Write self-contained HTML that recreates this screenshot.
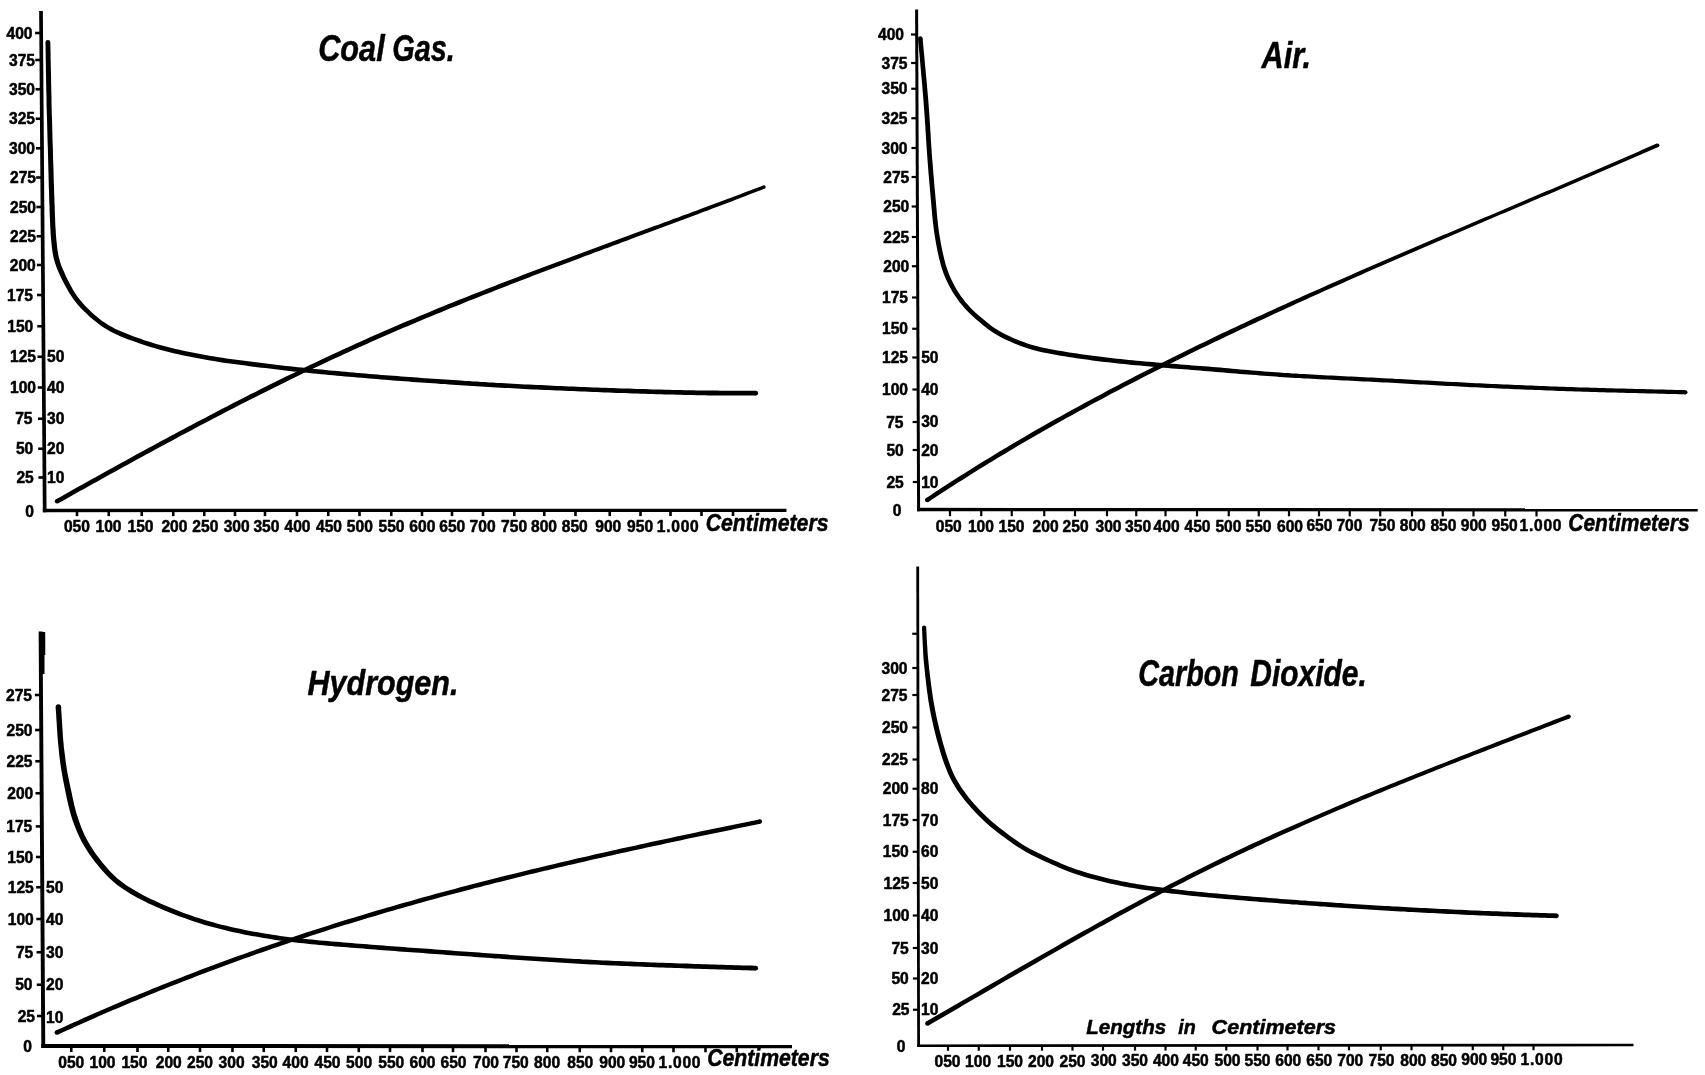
<!DOCTYPE html>
<html lang="en"><head><meta charset="utf-8"><title>Curves for Coal Gas, Air, Hydrogen and Carbon Dioxide</title>
<style>
html,body{margin:0;padding:0;background:#fff;}
body{width:1705px;height:1075px;overflow:hidden;}
svg{display:block;filter:grayscale(1);font-family:"Liberation Sans", sans-serif;font-weight:bold;fill:#000;stroke:#000;}
svg text{stroke:#000;stroke-width:0.5px;stroke-linejoin:round;}
</style></head><body>
<svg width="1705" height="1075" viewBox="0 0 1705 1075">
<line x1="41.00" y1="11.00" x2="44.70" y2="512.15" stroke-width="3.7"/>
<line x1="42.85" y1="510.50" x2="786.50" y2="510.40" stroke-width="3.3"/>
<line x1="35.11" y1="33.00" x2="41.16" y2="33.00" stroke-width="2.6"/>
<text x="32.5" y="38.7" font-size="15.6" text-anchor="end" letter-spacing="0.0">400</text>
<line x1="35.31" y1="60.00" x2="41.36" y2="60.00" stroke-width="2.6"/>
<text x="35.0" y="65.7" font-size="15.6" text-anchor="end" letter-spacing="0.0">375</text>
<line x1="35.53" y1="89.25" x2="41.58" y2="89.25" stroke-width="2.6"/>
<text x="35.0" y="94.95" font-size="15.6" text-anchor="end" letter-spacing="0.0">350</text>
<line x1="35.75" y1="118.75" x2="41.80" y2="118.75" stroke-width="2.6"/>
<text x="35.0" y="124.45" font-size="15.6" text-anchor="end" letter-spacing="0.0">325</text>
<line x1="35.97" y1="148.25" x2="42.02" y2="148.25" stroke-width="2.6"/>
<text x="35.0" y="153.95" font-size="15.6" text-anchor="end" letter-spacing="0.0">300</text>
<line x1="36.18" y1="177.50" x2="42.23" y2="177.50" stroke-width="2.6"/>
<text x="36.0" y="183.2" font-size="15.6" text-anchor="end" letter-spacing="0.0">275</text>
<line x1="36.40" y1="207.00" x2="42.45" y2="207.00" stroke-width="2.6"/>
<text x="36.0" y="212.7" font-size="15.6" text-anchor="end" letter-spacing="0.0">250</text>
<line x1="36.62" y1="236.25" x2="42.67" y2="236.25" stroke-width="2.6"/>
<text x="36.0" y="241.95" font-size="15.6" text-anchor="end" letter-spacing="0.0">225</text>
<line x1="36.83" y1="265.00" x2="42.88" y2="265.00" stroke-width="2.6"/>
<text x="35.75" y="270.7" font-size="15.6" text-anchor="end" letter-spacing="0.0">200</text>
<line x1="37.05" y1="295.00" x2="43.10" y2="295.00" stroke-width="2.6"/>
<text x="33.0" y="300.7" font-size="15.6" text-anchor="end" letter-spacing="0.0">175</text>
<line x1="37.29" y1="326.25" x2="43.34" y2="326.25" stroke-width="2.6"/>
<text x="33.25" y="331.95" font-size="15.6" text-anchor="end" letter-spacing="0.0">150</text>
<line x1="37.51" y1="356.75" x2="43.56" y2="356.75" stroke-width="2.6"/>
<text x="36.0" y="362.45" font-size="15.6" text-anchor="end" letter-spacing="0.0">125</text>
<line x1="37.74" y1="387.50" x2="43.79" y2="387.50" stroke-width="2.6"/>
<text x="36.0" y="393.2" font-size="15.6" text-anchor="end" letter-spacing="0.0">100</text>
<line x1="37.97" y1="418.75" x2="44.02" y2="418.75" stroke-width="2.6"/>
<text x="32.5" y="424.45" font-size="15.6" text-anchor="end" letter-spacing="0.0">75</text>
<line x1="38.19" y1="448.75" x2="44.24" y2="448.75" stroke-width="2.6"/>
<text x="33.25" y="454.45" font-size="15.6" text-anchor="end" letter-spacing="0.0">50</text>
<line x1="38.41" y1="477.50" x2="44.46" y2="477.50" stroke-width="2.6"/>
<text x="33.75" y="483.2" font-size="15.6" text-anchor="end" letter-spacing="0.0">25</text>
<text x="34.0" y="516.5" font-size="15.6" text-anchor="end" letter-spacing="0.0">0</text>
<text x="47.1" y="362.2" font-size="15.6" text-anchor="start" letter-spacing="0.0">50</text>
<text x="47.1" y="393.2" font-size="15.6" text-anchor="start" letter-spacing="0.0">40</text>
<text x="47.1" y="423.7" font-size="15.6" text-anchor="start" letter-spacing="0.0">30</text>
<text x="47.1" y="454.2" font-size="15.6" text-anchor="start" letter-spacing="0.0">20</text>
<text x="47.1" y="483.2" font-size="15.6" text-anchor="start" letter-spacing="0.0">10</text>
<line x1="77.00" y1="510.50" x2="77.00" y2="516.15" stroke-width="2.6"/>
<text x="76.9" y="532.0" font-size="15.6" text-anchor="middle" letter-spacing="0.0">050</text>
<line x1="108.75" y1="510.49" x2="108.75" y2="516.14" stroke-width="2.6"/>
<text x="108.5" y="532.0" font-size="15.6" text-anchor="middle" letter-spacing="0.0">100</text>
<line x1="141.75" y1="510.49" x2="141.75" y2="516.14" stroke-width="2.6"/>
<text x="140.5" y="532.0" font-size="15.6" text-anchor="middle" letter-spacing="0.0">150</text>
<line x1="173.25" y1="510.48" x2="173.25" y2="516.13" stroke-width="2.6"/>
<text x="174.4" y="532.0" font-size="15.6" text-anchor="middle" letter-spacing="0.0">200</text>
<line x1="204.25" y1="510.48" x2="204.25" y2="516.13" stroke-width="2.6"/>
<text x="205.3" y="532.0" font-size="15.6" text-anchor="middle" letter-spacing="0.0">250</text>
<line x1="235.00" y1="510.47" x2="235.00" y2="516.12" stroke-width="2.6"/>
<text x="236.7" y="532.0" font-size="15.6" text-anchor="middle" letter-spacing="0.0">300</text>
<line x1="265.00" y1="510.47" x2="265.00" y2="516.12" stroke-width="2.6"/>
<text x="266.4" y="532.0" font-size="15.6" text-anchor="middle" letter-spacing="0.0">350</text>
<line x1="297.00" y1="510.47" x2="297.00" y2="516.12" stroke-width="2.6"/>
<text x="297.5" y="532.0" font-size="15.6" text-anchor="middle" letter-spacing="0.0">400</text>
<line x1="328.25" y1="510.46" x2="328.25" y2="516.11" stroke-width="2.6"/>
<text x="329.0" y="532.0" font-size="15.6" text-anchor="middle" letter-spacing="0.0">450</text>
<line x1="359.50" y1="510.46" x2="359.50" y2="516.11" stroke-width="2.6"/>
<text x="359.8" y="532.0" font-size="15.6" text-anchor="middle" letter-spacing="0.0">500</text>
<line x1="391.25" y1="510.45" x2="391.25" y2="516.10" stroke-width="2.6"/>
<text x="391.5" y="532.0" font-size="15.6" text-anchor="middle" letter-spacing="0.0">550</text>
<line x1="422.00" y1="510.45" x2="422.00" y2="516.10" stroke-width="2.6"/>
<text x="422.3" y="532.0" font-size="15.6" text-anchor="middle" letter-spacing="0.0">600</text>
<line x1="452.00" y1="510.45" x2="452.00" y2="516.10" stroke-width="2.6"/>
<text x="452.25" y="532.0" font-size="15.6" text-anchor="middle" letter-spacing="0.0">650</text>
<line x1="483.00" y1="510.44" x2="483.00" y2="516.09" stroke-width="2.6"/>
<text x="482.6" y="532.0" font-size="15.6" text-anchor="middle" letter-spacing="0.0">700</text>
<line x1="514.25" y1="510.44" x2="514.25" y2="516.09" stroke-width="2.6"/>
<text x="514.1" y="532.0" font-size="15.6" text-anchor="middle" letter-spacing="0.0">750</text>
<line x1="544.25" y1="510.43" x2="544.25" y2="516.08" stroke-width="2.6"/>
<text x="544.0" y="532.0" font-size="15.6" text-anchor="middle" letter-spacing="0.0">800</text>
<line x1="575.50" y1="510.43" x2="575.50" y2="516.08" stroke-width="2.6"/>
<text x="574.75" y="532.0" font-size="15.6" text-anchor="middle" letter-spacing="0.0">850</text>
<line x1="609.75" y1="510.42" x2="609.75" y2="516.07" stroke-width="2.6"/>
<text x="608.25" y="532.0" font-size="15.6" text-anchor="middle" letter-spacing="0.0">900</text>
<line x1="640.50" y1="510.42" x2="640.50" y2="516.07" stroke-width="2.6"/>
<text x="640.1" y="532.0" font-size="15.6" text-anchor="middle" letter-spacing="0.0">950</text>
<line x1="670.50" y1="510.42" x2="670.50" y2="516.07" stroke-width="2.6"/>
<text x="656.80" y="532.00" font-size="15.6" textLength="42">1.000</text>
<line x1="701.50" y1="510.41" x2="701.50" y2="516.06" stroke-width="2.6"/>
<line x1="733.00" y1="510.41" x2="733.00" y2="516.06" stroke-width="2.6"/>
<text x="318.2" y="61.3" font-size="36.5" text-anchor="start" textLength="66.5" lengthAdjust="spacingAndGlyphs" font-style="italic">Coal</text>
<text x="392.3" y="61.3" font-size="36.5" text-anchor="start" textLength="62.5" lengthAdjust="spacingAndGlyphs" font-style="italic">Gas.</text>
<text x="705.7" y="531.4" font-size="23" text-anchor="start" textLength="122.8" lengthAdjust="spacingAndGlyphs" font-style="italic">Centimeters</text>
<path d="M45.5,42.5 L45.6,46.5 L45.6,50.5 L45.7,54.5 L45.7,58.5 L45.8,62.5 L45.9,66.5 L45.9,70.5 L46.0,74.5 L46.1,78.5 L46.1,82.5 L46.2,86.5 L46.3,90.5 L46.4,94.5 L46.5,98.5 L46.5,102.5 L46.6,106.6 L46.7,110.6 L46.9,114.6 L47.0,118.6 L47.1,122.6 L47.2,126.6 L47.3,130.5 L47.4,134.5 L47.5,138.5 L47.6,142.5 L47.8,146.5 L47.9,150.5 L48.0,154.5 L48.1,158.5 L48.2,162.5 L48.3,166.5 L48.4,170.5 L48.5,174.5 L48.6,178.5 L48.7,182.5 L48.8,186.5 L49.0,190.5 L49.1,194.5 L49.2,198.5 L49.3,202.5 L49.5,206.5 L49.6,210.5 L49.7,214.5 L49.9,218.5 L50.1,222.5 L50.2,226.6 L50.5,230.6 L50.7,234.6 L51.0,238.6 L51.4,242.6 L51.8,246.7 L52.3,250.7 L53.0,254.7 L53.8,258.8 L55.0,262.8 L56.3,266.7 L57.8,270.5 L59.5,274.2 L61.2,277.9 L63.0,281.5 L64.8,285.1 L66.8,288.6 L68.8,292.2 L71.0,295.6 L73.3,299.0 L75.8,302.3 L78.4,305.4 L81.2,308.4 L84.0,311.3 L87.0,314.1 L90.0,316.9 L93.0,319.5 L96.2,322.1 L99.4,324.6 L102.8,326.9 L106.2,329.1 L109.8,331.2 L113.4,333.0 L117.1,334.8 L120.8,336.4 L124.6,337.9 L128.3,339.4 L132.1,340.8 L135.9,342.1 L139.7,343.5 L143.5,344.7 L147.3,346.0 L151.2,347.2 L155.0,348.3 L158.9,349.4 L162.8,350.5 L166.7,351.5 L170.6,352.5 L174.5,353.4 L178.4,354.3 L182.3,355.2 L186.3,356.0 L190.2,356.8 L194.1,357.6 L198.1,358.3 L202.0,359.1 L206.0,359.8 L209.9,360.4 L213.9,361.1 L217.8,361.7 L221.8,362.4 L225.8,362.9 L229.7,363.5 L233.7,364.1 L237.7,364.6 L241.7,365.1 L245.6,365.6 L249.6,366.2 L253.6,366.7 L257.5,367.2 L261.5,367.7 L265.5,368.1 L269.5,368.6 L273.4,369.1 L277.4,369.6 L281.4,370.0 L285.4,370.5 L289.3,370.9 L293.3,371.4 L297.3,371.8 L301.3,372.2 L305.3,372.6 L309.2,373.0 L313.2,373.4 L317.2,373.8 L321.2,374.2 L325.2,374.6 L329.2,375.0 L333.2,375.3 L337.1,375.7 L341.1,376.0 L345.1,376.4 L349.1,376.7 L353.1,377.1 L357.1,377.4 L361.1,377.8 L365.0,378.1 L369.0,378.5 L373.0,378.8 L377.0,379.1 L381.0,379.4 L385.0,379.8 L389.0,380.1 L393.0,380.4 L397.0,380.7 L401.0,381.0 L404.9,381.3 L408.9,381.6 L412.9,381.9 L416.9,382.2 L420.9,382.5 L424.9,382.8 L428.9,383.0 L432.9,383.3 L436.9,383.6 L440.9,383.9 L444.9,384.1 L448.8,384.4 L452.8,384.7 L456.8,384.9 L460.8,385.2 L464.8,385.5 L468.8,385.7 L472.8,386.0 L476.8,386.2 L480.8,386.5 L484.8,386.7 L488.8,387.0 L492.8,387.2 L496.8,387.5 L500.8,387.7 L504.8,387.9 L508.8,388.1 L512.8,388.3 L516.8,388.6 L520.7,388.8 L524.7,389.0 L528.7,389.2 L532.7,389.4 L536.7,389.5 L540.7,389.7 L544.7,389.9 L548.7,390.1 L552.7,390.3 L556.7,390.5 L560.7,390.6 L564.7,390.8 L568.7,391.0 L572.7,391.1 L576.7,391.3 L580.7,391.5 L584.7,391.6 L588.7,391.8 L592.7,392.0 L596.7,392.1 L600.7,392.3 L604.7,392.4 L608.7,392.6 L612.7,392.7 L616.7,392.9 L620.7,393.0 L624.7,393.1 L628.7,393.3 L632.7,393.4 L636.7,393.6 L640.7,393.7 L644.7,393.8 L648.7,393.9 L652.7,394.1 L656.7,394.2 L660.7,394.3 L664.7,394.4 L668.7,394.5 L672.7,394.6 L676.7,394.7 L680.7,394.8 L684.7,394.9 L688.7,395.0 L692.7,395.1 L696.7,395.2 L700.7,395.2 L704.7,395.3 L708.7,395.4 L712.7,395.4 L716.7,395.4 L720.7,395.5 L724.7,395.5 L728.7,395.5 L732.7,395.6 L736.7,395.6 L740.7,395.6 L744.7,395.6 L748.7,395.6 L752.7,395.6 L755.7,395.6 L755.7,390.8 L752.7,390.8 L748.7,390.8 L744.7,390.8 L740.7,390.8 L736.7,390.8 L732.8,390.8 L728.8,390.7 L724.8,390.7 L720.8,390.7 L716.8,390.6 L712.8,390.6 L708.8,390.6 L704.8,390.5 L700.8,390.4 L696.8,390.4 L692.8,390.3 L688.8,390.2 L684.8,390.2 L680.8,390.1 L676.8,390.0 L672.8,389.9 L668.8,389.8 L664.8,389.7 L660.8,389.6 L656.8,389.5 L652.8,389.4 L648.8,389.2 L644.8,389.1 L640.8,389.0 L636.8,388.9 L632.8,388.8 L628.8,388.6 L624.9,388.5 L620.9,388.4 L616.9,388.2 L612.9,388.1 L608.9,388.0 L604.9,387.8 L600.9,387.7 L596.9,387.5 L592.9,387.4 L588.9,387.2 L584.9,387.0 L580.9,386.9 L576.9,386.7 L572.9,386.6 L568.9,386.4 L564.9,386.2 L560.9,386.0 L556.9,385.9 L552.9,385.7 L548.9,385.5 L544.9,385.3 L541.0,385.1 L537.0,385.0 L533.0,384.8 L529.0,384.6 L525.0,384.4 L521.0,384.2 L517.0,384.0 L513.0,383.7 L509.0,383.5 L505.0,383.3 L501.0,383.1 L497.0,382.9 L493.0,382.6 L489.1,382.4 L485.1,382.1 L481.1,381.9 L477.1,381.6 L473.1,381.4 L469.1,381.1 L465.1,380.9 L461.1,380.6 L457.1,380.3 L453.1,380.1 L449.2,379.8 L445.2,379.5 L441.2,379.3 L437.2,379.0 L433.2,378.7 L429.2,378.4 L425.2,378.2 L421.2,377.9 L417.2,377.6 L413.3,377.3 L409.3,377.0 L405.3,376.7 L401.3,376.4 L397.3,376.1 L393.3,375.8 L389.3,375.5 L385.4,375.2 L381.4,374.9 L377.4,374.5 L373.4,374.2 L369.4,373.9 L365.4,373.5 L361.5,373.2 L357.5,372.9 L353.5,372.5 L349.5,372.2 L345.5,371.8 L341.5,371.5 L337.6,371.1 L333.6,370.7 L329.6,370.4 L325.6,370.0 L321.6,369.6 L317.7,369.2 L313.7,368.9 L309.7,368.5 L305.7,368.0 L301.8,367.6 L297.8,367.2 L293.8,366.8 L289.8,366.3 L285.9,365.9 L281.9,365.5 L277.9,365.0 L274.0,364.5 L270.0,364.1 L266.0,363.6 L262.1,363.1 L258.1,362.6 L254.1,362.1 L250.2,361.6 L246.2,361.1 L242.2,360.6 L238.3,360.0 L234.3,359.5 L230.4,359.0 L226.4,358.4 L222.5,357.8 L218.6,357.2 L214.6,356.6 L210.7,355.9 L206.8,355.2 L202.8,354.5 L198.9,353.8 L195.0,353.1 L191.1,352.3 L187.2,351.5 L183.3,350.7 L179.4,349.8 L175.5,348.9 L171.7,348.0 L167.8,347.1 L164.0,346.1 L160.1,345.0 L156.3,343.9 L152.5,342.8 L148.7,341.6 L144.9,340.4 L141.2,339.1 L137.4,337.8 L133.7,336.5 L130.0,335.1 L126.3,333.6 L122.6,332.1 L119.0,330.6 L115.4,328.9 L112.0,327.1 L108.6,325.2 L105.3,323.1 L102.1,320.9 L99.0,318.5 L96.0,316.0 L93.0,313.4 L90.1,310.8 L87.3,308.0 L84.6,305.2 L82.0,302.3 L79.5,299.3 L77.2,296.2 L75.0,293.0 L73.0,289.7 L71.1,286.3 L69.2,282.8 L67.4,279.3 L65.7,275.7 L64.1,272.1 L62.5,268.5 L61.1,264.9 L59.9,261.2 L58.9,257.5 L58.1,253.8 L57.5,249.9 L57.0,246.1 L56.6,242.1 L56.2,238.2 L55.9,234.2 L55.7,230.3 L55.4,226.3 L55.2,222.3 L55.1,218.3 L54.9,214.3 L54.8,210.4 L54.7,206.4 L54.5,202.4 L54.4,198.4 L54.2,194.4 L54.1,190.4 L54.0,186.4 L53.8,182.4 L53.7,178.4 L53.6,174.4 L53.5,170.4 L53.4,166.4 L53.2,162.4 L53.1,158.4 L53.0,154.4 L52.9,150.4 L52.8,146.4 L52.6,142.4 L52.5,138.4 L52.4,134.4 L52.3,130.4 L52.2,126.4 L52.1,122.4 L52.0,118.4 L51.8,114.4 L51.7,110.4 L51.6,106.4 L51.5,102.4 L51.5,98.4 L51.4,94.4 L51.3,90.4 L51.2,86.4 L51.1,82.4 L51.1,78.4 L51.0,74.4 L50.9,70.4 L50.8,66.5 L50.7,62.5 L50.6,58.5 L50.6,54.5 L50.5,50.5 L50.4,46.5 L50.3,42.5Z" stroke="none"/>
<circle cx="47.9" cy="42.5" r="2.40" stroke="none"/>
<circle cx="755.7" cy="393.2" r="2.40" stroke="none"/>
<path d="M58.2,503.3 L62.5,500.9 L66.9,498.5 L71.2,496.0 L75.5,493.6 L79.9,491.1 L84.3,488.7 L88.6,486.3 L93.0,483.8 L97.4,481.4 L101.7,479.0 L106.1,476.6 L110.5,474.1 L114.9,471.7 L119.3,469.3 L123.7,466.8 L128.1,464.4 L132.5,462.0 L136.9,459.6 L141.3,457.2 L145.7,454.8 L150.1,452.4 L154.6,450.0 L159.0,447.6 L163.4,445.2 L167.9,442.8 L172.3,440.4 L176.8,438.0 L181.2,435.6 L185.7,433.2 L190.1,430.9 L194.6,428.5 L199.1,426.1 L203.5,423.8 L208.0,421.4 L212.5,419.1 L216.9,416.7 L221.4,414.4 L225.9,412.1 L230.4,409.8 L234.9,407.4 L239.4,405.1 L243.9,402.8 L248.4,400.5 L252.9,398.2 L257.4,396.0 L261.9,393.7 L266.5,391.4 L271.0,389.2 L275.5,386.9 L280.0,384.7 L284.6,382.4 L289.1,380.2 L293.6,378.0 L298.2,375.8 L302.7,373.6 L307.3,371.4 L311.8,369.2 L316.4,367.1 L320.9,364.9 L325.5,362.7 L330.1,360.6 L334.6,358.5 L339.2,356.4 L343.8,354.3 L348.4,352.2 L352.9,350.1 L357.5,348.0 L362.1,345.9 L366.7,343.9 L371.3,341.8 L375.9,339.8 L380.5,337.8 L385.1,335.8 L389.7,333.8 L394.3,331.8 L398.9,329.8 L403.5,327.8 L408.1,325.9 L412.7,323.9 L417.3,322.0 L422.0,320.0 L426.6,318.1 L431.2,316.2 L435.8,314.3 L440.5,312.4 L445.1,310.5 L449.7,308.6 L454.4,306.7 L459.0,304.9 L463.7,303.0 L468.3,301.1 L473.0,299.2 L477.6,297.4 L482.3,295.5 L486.9,293.7 L491.6,291.9 L496.2,290.0 L500.9,288.2 L505.5,286.4 L510.2,284.6 L514.9,282.8 L519.5,281.0 L524.2,279.2 L528.9,277.4 L533.6,275.6 L538.2,273.8 L542.9,272.0 L547.6,270.3 L552.3,268.5 L557.0,266.7 L561.7,264.9 L566.4,263.2 L571.1,261.4 L575.7,259.7 L580.4,257.9 L585.1,256.1 L589.8,254.4 L594.5,252.6 L599.2,250.9 L603.9,249.1 L608.7,247.4 L613.4,245.6 L618.1,243.9 L622.8,242.1 L627.5,240.4 L632.2,238.6 L636.9,236.8 L641.6,235.1 L646.3,233.3 L651.1,231.6 L655.8,229.8 L660.5,228.1 L665.2,226.3 L670.0,224.5 L674.7,222.8 L679.4,221.0 L684.1,219.2 L688.9,217.5 L693.6,215.7 L698.3,213.9 L703.1,212.1 L707.8,210.4 L712.5,208.6 L717.3,206.8 L722.0,205.0 L726.7,203.2 L731.5,201.4 L736.2,199.6 L740.9,197.7 L745.7,195.9 L750.4,194.1 L755.2,192.3 L759.9,190.4 L764.6,188.6 L763.4,185.4 L758.7,187.2 L753.9,189.0 L749.2,190.8 L744.4,192.6 L739.7,194.4 L734.9,196.2 L730.2,198.0 L725.4,199.8 L720.7,201.5 L716.0,203.3 L711.2,205.1 L706.5,206.8 L701.7,208.6 L697.0,210.4 L692.3,212.1 L687.5,213.9 L682.8,215.6 L678.1,217.4 L673.3,219.1 L668.6,220.9 L663.9,222.6 L659.1,224.4 L654.4,226.1 L649.7,227.8 L645.0,229.6 L640.2,231.3 L635.5,233.0 L630.8,234.8 L626.1,236.5 L621.3,238.3 L616.6,240.0 L611.9,241.7 L607.2,243.5 L602.5,245.2 L597.8,246.9 L593.1,248.7 L588.4,250.4 L583.7,252.2 L579.0,253.9 L574.3,255.7 L569.6,257.4 L564.9,259.2 L560.2,260.9 L555.5,262.7 L550.8,264.5 L546.1,266.2 L541.4,268.0 L536.7,269.8 L532.0,271.6 L527.3,273.3 L522.7,275.1 L518.0,276.9 L513.3,278.7 L508.6,280.5 L504.0,282.3 L499.3,284.1 L494.6,285.9 L489.9,287.7 L485.3,289.5 L480.6,291.4 L475.9,293.2 L471.3,295.0 L466.6,296.9 L462.0,298.7 L457.3,300.6 L452.7,302.5 L448.0,304.3 L443.4,306.2 L438.7,308.1 L434.1,310.0 L429.5,311.9 L424.8,313.9 L420.2,315.8 L415.6,317.7 L410.9,319.7 L406.3,321.6 L401.7,323.6 L397.1,325.6 L392.5,327.6 L387.8,329.6 L383.2,331.6 L378.6,333.6 L374.0,335.6 L369.4,337.6 L364.8,339.7 L360.2,341.7 L355.6,343.8 L351.0,345.9 L346.4,348.0 L341.9,350.1 L337.3,352.2 L332.7,354.3 L328.1,356.4 L323.6,358.6 L319.0,360.7 L314.4,362.9 L309.9,365.1 L305.3,367.3 L300.7,369.5 L296.2,371.7 L291.6,373.9 L287.1,376.1 L282.5,378.3 L278.0,380.5 L273.5,382.8 L268.9,385.0 L264.4,387.3 L259.9,389.6 L255.4,391.9 L250.8,394.1 L246.3,396.4 L241.8,398.7 L237.3,401.0 L232.8,403.3 L228.3,405.7 L223.8,408.0 L219.3,410.3 L214.8,412.7 L210.3,415.0 L205.9,417.4 L201.4,419.7 L196.9,422.1 L192.4,424.4 L188.0,426.8 L183.5,429.2 L179.0,431.6 L174.6,433.9 L170.1,436.3 L165.7,438.7 L161.3,441.1 L156.8,443.5 L152.4,445.9 L148.0,448.3 L143.5,450.7 L139.1,453.1 L134.7,455.6 L130.3,458.0 L125.9,460.4 L121.5,462.8 L117.1,465.2 L112.7,467.7 L108.3,470.1 L103.9,472.5 L99.5,475.0 L95.1,477.4 L90.8,479.8 L86.4,482.3 L82.0,484.7 L77.7,487.1 L73.3,489.6 L69.0,492.0 L64.6,494.4 L60.3,496.9 L55.9,499.3Z" stroke="none"/>
<circle cx="57.1" cy="501.3" r="2.30" stroke="none"/>
<circle cx="764.0" cy="187.0" r="1.70" stroke="none"/>
<line x1="916.60" y1="9.50" x2="918.60" y2="511.15" stroke-width="3.0"/>
<line x1="917.10" y1="509.50" x2="1697.70" y2="509.90" stroke-width="3.3"/>
<line x1="911.00" y1="34.50" x2="916.70" y2="34.50" stroke-width="2.2"/>
<text x="904.0" y="40.2" font-size="15.6" text-anchor="end" letter-spacing="0.0">400</text>
<line x1="911.11" y1="63.00" x2="916.81" y2="63.00" stroke-width="2.2"/>
<text x="907.5" y="68.7" font-size="15.6" text-anchor="end" letter-spacing="0.0">375</text>
<line x1="911.22" y1="88.75" x2="916.92" y2="88.75" stroke-width="2.2"/>
<text x="907.5" y="94.45" font-size="15.6" text-anchor="end" letter-spacing="0.0">350</text>
<line x1="911.33" y1="118.25" x2="917.03" y2="118.25" stroke-width="2.2"/>
<text x="907.5" y="123.95" font-size="15.6" text-anchor="end" letter-spacing="0.0">325</text>
<line x1="911.45" y1="148.00" x2="917.15" y2="148.00" stroke-width="2.2"/>
<text x="907.5" y="153.7" font-size="15.6" text-anchor="end" letter-spacing="0.0">300</text>
<line x1="911.57" y1="177.00" x2="917.27" y2="177.00" stroke-width="2.2"/>
<text x="909.3" y="182.7" font-size="15.6" text-anchor="end" letter-spacing="0.0">275</text>
<line x1="911.69" y1="206.50" x2="917.39" y2="206.50" stroke-width="2.2"/>
<text x="909.3" y="212.2" font-size="15.6" text-anchor="end" letter-spacing="0.0">250</text>
<line x1="911.81" y1="237.00" x2="917.51" y2="237.00" stroke-width="2.2"/>
<text x="909.3" y="242.7" font-size="15.6" text-anchor="end" letter-spacing="0.0">225</text>
<line x1="911.93" y1="266.25" x2="917.63" y2="266.25" stroke-width="2.2"/>
<text x="909.3" y="271.95" font-size="15.6" text-anchor="end" letter-spacing="0.0">200</text>
<line x1="912.05" y1="297.50" x2="917.75" y2="297.50" stroke-width="2.2"/>
<text x="908.0" y="303.2" font-size="15.6" text-anchor="end" letter-spacing="0.0">175</text>
<line x1="912.18" y1="328.75" x2="917.88" y2="328.75" stroke-width="2.2"/>
<text x="908.0" y="334.45" font-size="15.6" text-anchor="end" letter-spacing="0.0">150</text>
<line x1="912.29" y1="357.50" x2="917.99" y2="357.50" stroke-width="2.2"/>
<text x="908.0" y="363.2" font-size="15.6" text-anchor="end" letter-spacing="0.0">125</text>
<line x1="912.42" y1="389.50" x2="918.12" y2="389.50" stroke-width="2.2"/>
<text x="908.0" y="395.2" font-size="15.6" text-anchor="end" letter-spacing="0.0">100</text>
<line x1="912.55" y1="422.00" x2="918.25" y2="422.00" stroke-width="2.2"/>
<text x="903.5" y="427.7" font-size="15.6" text-anchor="end" letter-spacing="0.0">75</text>
<line x1="912.66" y1="450.00" x2="918.36" y2="450.00" stroke-width="2.2"/>
<text x="903.75" y="455.7" font-size="15.6" text-anchor="end" letter-spacing="0.0">50</text>
<line x1="912.79" y1="482.00" x2="918.49" y2="482.00" stroke-width="2.2"/>
<text x="903.75" y="487.7" font-size="15.6" text-anchor="end" letter-spacing="0.0">25</text>
<text x="901.5" y="516.2" font-size="15.6" text-anchor="end" letter-spacing="0.0">0</text>
<text x="921.1999999999999" y="363.2" font-size="15.6" text-anchor="start" letter-spacing="0.0">50</text>
<text x="921.1999999999999" y="395.2" font-size="15.6" text-anchor="start" letter-spacing="0.0">40</text>
<text x="921.1999999999999" y="426.95" font-size="15.6" text-anchor="start" letter-spacing="0.0">30</text>
<text x="921.1999999999999" y="455.7" font-size="15.6" text-anchor="start" letter-spacing="0.0">20</text>
<text x="921.1999999999999" y="487.7" font-size="15.6" text-anchor="start" letter-spacing="0.0">10</text>
<line x1="950.00" y1="509.52" x2="950.00" y2="516.17" stroke-width="2.2"/>
<text x="948.75" y="531.8" font-size="15.6" text-anchor="middle" letter-spacing="0.0">050</text>
<line x1="981.25" y1="509.53" x2="981.25" y2="516.18" stroke-width="2.2"/>
<text x="980.9" y="531.77" font-size="15.6" text-anchor="middle" letter-spacing="0.0">100</text>
<line x1="1011.75" y1="509.55" x2="1011.75" y2="516.20" stroke-width="2.2"/>
<text x="1011.5" y="531.75" font-size="15.6" text-anchor="middle" letter-spacing="0.0">150</text>
<line x1="1044.25" y1="509.56" x2="1044.25" y2="516.21" stroke-width="2.2"/>
<text x="1045.6" y="531.72" font-size="15.6" text-anchor="middle" letter-spacing="0.0">200</text>
<line x1="1075.00" y1="509.58" x2="1075.00" y2="516.23" stroke-width="2.2"/>
<text x="1075.6" y="531.69" font-size="15.6" text-anchor="middle" letter-spacing="0.0">250</text>
<line x1="1107.00" y1="509.60" x2="1107.00" y2="516.25" stroke-width="2.2"/>
<text x="1108.5" y="531.66" font-size="15.6" text-anchor="middle" letter-spacing="0.0">300</text>
<line x1="1136.25" y1="509.61" x2="1136.25" y2="516.26" stroke-width="2.2"/>
<text x="1138.1" y="531.64" font-size="15.6" text-anchor="middle" letter-spacing="0.0">350</text>
<line x1="1165.50" y1="509.63" x2="1165.50" y2="516.28" stroke-width="2.2"/>
<text x="1166.6" y="531.62" font-size="15.6" text-anchor="middle" letter-spacing="0.0">400</text>
<line x1="1197.00" y1="509.64" x2="1197.00" y2="516.29" stroke-width="2.2"/>
<text x="1197.5" y="531.59" font-size="15.6" text-anchor="middle" letter-spacing="0.0">450</text>
<line x1="1228.75" y1="509.66" x2="1228.75" y2="516.31" stroke-width="2.2"/>
<text x="1228.4" y="531.56" font-size="15.6" text-anchor="middle" letter-spacing="0.0">500</text>
<line x1="1258.75" y1="509.67" x2="1258.75" y2="516.32" stroke-width="2.2"/>
<text x="1258.5" y="531.54" font-size="15.6" text-anchor="middle" letter-spacing="0.0">550</text>
<line x1="1289.00" y1="509.69" x2="1289.00" y2="516.34" stroke-width="2.2"/>
<text x="1290.0" y="531.51" font-size="15.6" text-anchor="middle" letter-spacing="0.0">600</text>
<line x1="1319.00" y1="509.71" x2="1319.00" y2="516.36" stroke-width="2.2"/>
<text x="1319.4" y="531.49" font-size="15.6" text-anchor="middle" letter-spacing="0.0">650</text>
<line x1="1349.75" y1="509.72" x2="1349.75" y2="516.37" stroke-width="2.2"/>
<text x="1349.4" y="531.46" font-size="15.6" text-anchor="middle" letter-spacing="0.0">700</text>
<line x1="1380.25" y1="509.74" x2="1380.25" y2="516.39" stroke-width="2.2"/>
<text x="1382.4" y="531.43" font-size="15.6" text-anchor="middle" letter-spacing="0.0">750</text>
<line x1="1412.00" y1="509.75" x2="1412.00" y2="516.40" stroke-width="2.2"/>
<text x="1412.75" y="531.41" font-size="15.6" text-anchor="middle" letter-spacing="0.0">800</text>
<line x1="1442.75" y1="509.77" x2="1442.75" y2="516.42" stroke-width="2.2"/>
<text x="1443.4" y="531.38" font-size="15.6" text-anchor="middle" letter-spacing="0.0">850</text>
<line x1="1473.50" y1="509.78" x2="1473.50" y2="516.43" stroke-width="2.2"/>
<text x="1473.75" y="531.36" font-size="15.6" text-anchor="middle" letter-spacing="0.0">900</text>
<line x1="1505.25" y1="509.80" x2="1505.25" y2="516.45" stroke-width="2.2"/>
<text x="1504.6" y="531.33" font-size="15.6" text-anchor="middle" letter-spacing="0.0">950</text>
<line x1="1536.50" y1="509.82" x2="1536.50" y2="516.47" stroke-width="2.2"/>
<text x="1519.50" y="531.30" font-size="15.6" textLength="42">1.000</text>
<text x="1261.5" y="67.6" font-size="36" text-anchor="start" textLength="49.5" lengthAdjust="spacingAndGlyphs" font-style="italic">Air.</text>
<text x="1568.3" y="530.8" font-size="23" text-anchor="start" textLength="121.3" lengthAdjust="spacingAndGlyphs" font-style="italic">Centimeters</text>
<path d="M918.0,38.7 L918.4,42.7 L918.7,46.7 L919.1,50.7 L919.5,54.6 L919.8,58.6 L920.2,62.6 L920.5,66.6 L920.9,70.6 L921.2,74.6 L921.6,78.5 L922.0,82.5 L922.3,86.5 L922.6,90.5 L923.0,94.5 L923.3,98.5 L923.6,102.4 L923.9,106.4 L924.2,110.4 L924.5,114.4 L924.8,118.4 L925.0,122.3 L925.3,126.3 L925.5,130.3 L925.8,134.3 L926.0,138.3 L926.3,142.3 L926.5,146.3 L926.8,150.3 L927.1,154.3 L927.4,158.3 L927.7,162.3 L928.0,166.3 L928.3,170.3 L928.6,174.3 L929.0,178.3 L929.3,182.2 L929.7,186.2 L930.0,190.2 L930.4,194.2 L930.7,198.2 L931.1,202.2 L931.4,206.2 L931.8,210.1 L932.1,214.1 L932.5,218.1 L932.9,222.1 L933.4,226.1 L933.9,230.1 L934.5,234.1 L935.1,238.1 L935.8,242.1 L936.5,246.0 L937.3,250.0 L938.1,253.9 L939.0,257.9 L940.0,261.8 L941.0,265.7 L942.2,269.6 L943.6,273.5 L945.1,277.3 L946.8,281.0 L948.6,284.7 L950.5,288.3 L952.5,291.8 L954.7,295.2 L957.0,298.6 L959.4,301.9 L962.0,305.1 L964.6,308.2 L967.5,311.2 L970.4,314.0 L973.3,316.8 L976.3,319.5 L979.4,322.1 L982.5,324.7 L985.7,327.2 L988.9,329.7 L992.2,332.0 L995.7,334.2 L999.2,336.3 L1002.8,338.2 L1006.5,339.9 L1010.2,341.6 L1013.9,343.2 L1017.7,344.7 L1021.4,346.2 L1025.3,347.5 L1029.1,348.8 L1033.0,349.9 L1036.9,350.9 L1040.9,351.9 L1044.8,352.7 L1048.8,353.5 L1052.7,354.3 L1056.7,355.0 L1060.6,355.7 L1064.6,356.3 L1068.5,357.0 L1072.5,357.6 L1076.5,358.2 L1080.4,358.7 L1084.4,359.3 L1088.4,359.8 L1092.3,360.4 L1096.3,360.9 L1100.3,361.4 L1104.3,361.9 L1108.3,362.3 L1112.2,362.8 L1116.2,363.2 L1120.2,363.7 L1124.2,364.1 L1128.2,364.5 L1132.2,364.9 L1136.1,365.3 L1140.1,365.6 L1144.1,366.0 L1148.1,366.3 L1152.1,366.7 L1156.1,367.0 L1160.1,367.4 L1164.1,367.7 L1168.0,368.0 L1172.0,368.4 L1176.0,368.7 L1180.0,369.0 L1184.0,369.3 L1188.0,369.6 L1192.0,369.9 L1196.0,370.3 L1199.9,370.6 L1203.9,370.9 L1207.9,371.2 L1211.9,371.5 L1215.9,371.9 L1219.9,372.2 L1223.9,372.5 L1227.8,372.9 L1231.8,373.2 L1235.8,373.5 L1239.8,373.9 L1243.8,374.2 L1247.8,374.5 L1251.8,374.8 L1255.8,375.1 L1259.7,375.5 L1263.7,375.8 L1267.7,376.1 L1271.7,376.3 L1275.7,376.6 L1279.7,376.9 L1283.7,377.2 L1287.7,377.4 L1291.7,377.7 L1295.7,377.9 L1299.7,378.1 L1303.7,378.4 L1307.7,378.6 L1311.7,378.8 L1315.7,379.0 L1319.7,379.2 L1323.7,379.4 L1327.7,379.6 L1331.7,379.8 L1335.7,380.0 L1339.7,380.2 L1343.7,380.4 L1347.6,380.6 L1351.6,380.8 L1355.6,381.0 L1359.6,381.2 L1363.6,381.4 L1367.6,381.6 L1371.6,381.8 L1375.6,382.0 L1379.6,382.2 L1383.6,382.4 L1387.6,382.6 L1391.6,382.8 L1395.6,383.1 L1399.6,383.3 L1403.6,383.5 L1407.6,383.7 L1411.5,383.9 L1415.5,384.2 L1419.5,384.4 L1423.5,384.6 L1427.5,384.8 L1431.5,385.0 L1435.5,385.3 L1439.5,385.5 L1443.5,385.7 L1447.5,385.9 L1451.5,386.1 L1455.5,386.3 L1459.5,386.5 L1463.5,386.7 L1467.5,387.0 L1471.5,387.2 L1475.5,387.3 L1479.5,387.5 L1483.5,387.7 L1487.5,387.9 L1491.5,388.1 L1495.5,388.3 L1499.5,388.5 L1503.4,388.7 L1507.4,388.8 L1511.4,389.0 L1515.4,389.2 L1519.4,389.3 L1523.4,389.5 L1527.4,389.7 L1531.4,389.8 L1535.4,390.0 L1539.4,390.1 L1543.4,390.3 L1547.4,390.4 L1551.4,390.6 L1555.4,390.7 L1559.4,390.9 L1563.4,391.0 L1567.4,391.2 L1571.4,391.3 L1575.4,391.4 L1579.4,391.5 L1583.4,391.7 L1587.4,391.8 L1591.4,391.9 L1595.4,392.0 L1599.4,392.2 L1603.4,392.3 L1607.4,392.4 L1611.4,392.5 L1615.4,392.6 L1619.4,392.7 L1623.4,392.8 L1627.4,392.9 L1631.4,393.0 L1635.4,393.1 L1639.4,393.2 L1643.4,393.3 L1647.4,393.4 L1651.4,393.5 L1655.4,393.6 L1659.4,393.7 L1663.4,393.8 L1667.4,393.9 L1671.4,394.0 L1675.4,394.1 L1679.4,394.2 L1683.4,394.3 L1685.4,394.4 L1685.5,390.2 L1683.5,390.1 L1679.5,390.0 L1675.5,389.9 L1671.5,389.8 L1667.5,389.7 L1663.5,389.6 L1659.5,389.5 L1655.5,389.4 L1651.5,389.3 L1647.5,389.2 L1643.5,389.1 L1639.5,389.0 L1635.5,388.9 L1631.5,388.8 L1627.5,388.7 L1623.5,388.6 L1619.5,388.5 L1615.5,388.4 L1611.5,388.3 L1607.5,388.2 L1603.5,388.1 L1599.5,388.0 L1595.5,387.8 L1591.5,387.7 L1587.5,387.6 L1583.5,387.5 L1579.6,387.4 L1575.6,387.2 L1571.6,387.1 L1567.6,387.0 L1563.6,386.8 L1559.6,386.7 L1555.6,386.5 L1551.6,386.4 L1547.6,386.2 L1543.6,386.1 L1539.6,385.9 L1535.6,385.8 L1531.6,385.6 L1527.6,385.5 L1523.6,385.3 L1519.6,385.1 L1515.6,385.0 L1511.6,384.8 L1507.6,384.6 L1503.6,384.5 L1499.6,384.3 L1495.6,384.1 L1491.7,383.9 L1487.7,383.7 L1483.7,383.5 L1479.7,383.3 L1475.7,383.2 L1471.7,383.0 L1467.7,382.8 L1463.7,382.6 L1459.7,382.3 L1455.7,382.1 L1451.7,381.9 L1447.7,381.7 L1443.7,381.5 L1439.7,381.3 L1435.7,381.1 L1431.7,380.8 L1427.8,380.6 L1423.8,380.4 L1419.8,380.2 L1415.8,380.0 L1411.8,379.7 L1407.8,379.5 L1403.8,379.3 L1399.8,379.1 L1395.8,378.9 L1391.8,378.6 L1387.8,378.4 L1383.8,378.2 L1379.8,378.0 L1375.8,377.8 L1371.8,377.6 L1367.8,377.4 L1363.8,377.2 L1359.8,377.0 L1355.8,376.8 L1351.9,376.6 L1347.9,376.4 L1343.9,376.2 L1339.9,376.0 L1335.9,375.8 L1331.9,375.6 L1327.9,375.4 L1323.9,375.2 L1319.9,375.0 L1315.9,374.8 L1311.9,374.5 L1307.9,374.3 L1303.9,374.1 L1299.9,373.9 L1296.0,373.6 L1292.0,373.4 L1288.0,373.1 L1284.0,372.9 L1280.0,372.6 L1276.0,372.3 L1272.0,372.0 L1268.1,371.7 L1264.1,371.4 L1260.1,371.1 L1256.1,370.7 L1252.1,370.4 L1248.1,370.1 L1244.2,369.7 L1240.2,369.4 L1236.2,369.0 L1232.2,368.7 L1228.2,368.3 L1224.2,368.0 L1220.3,367.6 L1216.3,367.3 L1212.3,367.0 L1208.3,366.6 L1204.3,366.3 L1200.3,366.0 L1196.3,365.7 L1192.3,365.4 L1188.4,365.0 L1184.4,364.7 L1180.4,364.4 L1176.4,364.1 L1172.4,363.8 L1168.4,363.4 L1164.4,363.1 L1160.5,362.8 L1156.5,362.5 L1152.5,362.1 L1148.5,361.8 L1144.5,361.4 L1140.6,361.0 L1136.6,360.7 L1132.6,360.3 L1128.6,359.9 L1124.7,359.5 L1120.7,359.1 L1116.7,358.7 L1112.7,358.2 L1108.8,357.8 L1104.8,357.3 L1100.9,356.8 L1096.9,356.3 L1092.9,355.8 L1089.0,355.3 L1085.0,354.7 L1081.1,354.2 L1077.1,353.6 L1073.2,353.0 L1069.3,352.4 L1065.3,351.8 L1061.4,351.1 L1057.5,350.5 L1053.6,349.7 L1049.7,349.0 L1045.8,348.2 L1041.9,347.4 L1038.1,346.5 L1034.3,345.5 L1030.5,344.4 L1026.7,343.2 L1023.0,341.8 L1019.3,340.4 L1015.7,338.9 L1012.1,337.4 L1008.5,335.8 L1004.9,334.1 L1001.5,332.2 L998.1,330.3 L994.8,328.2 L991.6,326.0 L988.5,323.6 L985.4,321.1 L982.4,318.6 L979.4,316.0 L976.4,313.4 L973.5,310.7 L970.7,307.9 L968.1,305.1 L965.5,302.2 L963.1,299.1 L960.8,296.0 L958.6,292.7 L956.6,289.4 L954.6,286.0 L952.8,282.5 L951.1,279.0 L949.5,275.4 L948.1,271.8 L946.8,268.1 L945.6,264.4 L944.6,260.6 L943.7,256.8 L942.8,252.9 L942.0,249.0 L941.2,245.2 L940.5,241.2 L939.8,237.3 L939.2,233.4 L938.6,229.5 L938.1,225.6 L937.7,221.6 L937.3,217.7 L936.9,213.7 L936.6,209.7 L936.2,205.7 L935.9,201.7 L935.5,197.8 L935.2,193.8 L934.8,189.8 L934.4,185.8 L934.1,181.8 L933.8,177.8 L933.4,173.9 L933.1,169.9 L932.8,165.9 L932.5,161.9 L932.1,157.9 L931.8,154.0 L931.6,150.0 L931.3,146.0 L931.0,142.0 L930.8,138.0 L930.6,134.0 L930.3,130.0 L930.1,126.0 L929.8,122.0 L929.6,118.0 L929.3,114.0 L929.0,110.0 L928.7,106.0 L928.4,102.1 L928.1,98.1 L927.7,94.1 L927.4,90.1 L927.0,86.1 L926.7,82.1 L926.3,78.1 L925.9,74.1 L925.6,70.2 L925.2,66.2 L924.8,62.2 L924.5,58.2 L924.1,54.2 L923.7,50.2 L923.3,46.3 L923.0,42.3 L922.6,38.3Z" stroke="none"/>
<circle cx="920.3" cy="38.5" r="2.30" stroke="none"/>
<circle cx="1685.4" cy="392.3" r="2.10" stroke="none"/>
<path d="M928.5,501.9 L932.7,499.1 L936.9,496.3 L941.1,493.5 L945.4,490.8 L949.6,488.0 L953.9,485.3 L958.1,482.6 L962.4,479.9 L966.6,477.2 L970.9,474.5 L975.2,471.8 L979.5,469.1 L983.8,466.5 L988.1,463.8 L992.4,461.2 L996.7,458.6 L1001.0,456.0 L1005.3,453.4 L1009.7,450.8 L1014.0,448.2 L1018.4,445.6 L1022.7,443.1 L1027.1,440.6 L1031.4,438.0 L1035.8,435.5 L1040.2,433.0 L1044.5,430.5 L1048.9,428.0 L1053.3,425.5 L1057.7,423.0 L1062.1,420.6 L1066.5,418.1 L1070.9,415.7 L1075.3,413.3 L1079.7,410.8 L1084.2,408.4 L1088.6,406.0 L1093.0,403.6 L1097.5,401.2 L1101.9,398.9 L1106.4,396.5 L1110.8,394.1 L1115.3,391.8 L1119.7,389.4 L1124.2,387.1 L1128.7,384.8 L1133.2,382.5 L1137.6,380.2 L1142.1,377.8 L1146.6,375.6 L1151.1,373.3 L1155.6,371.0 L1160.1,368.7 L1164.6,366.5 L1169.1,364.2 L1173.6,362.0 L1178.2,359.7 L1182.7,357.5 L1187.2,355.3 L1191.7,353.0 L1196.3,350.8 L1200.8,348.6 L1205.3,346.4 L1209.9,344.2 L1214.4,342.1 L1219.0,339.9 L1223.5,337.7 L1228.1,335.5 L1232.6,333.4 L1237.2,331.2 L1241.8,329.1 L1246.3,326.9 L1250.9,324.8 L1255.5,322.7 L1260.1,320.5 L1264.6,318.4 L1269.2,316.3 L1273.8,314.1 L1278.4,312.0 L1283.0,309.9 L1287.5,307.8 L1292.1,305.7 L1296.7,303.6 L1301.3,301.5 L1305.9,299.4 L1310.5,297.3 L1315.1,295.2 L1319.7,293.2 L1324.3,291.1 L1329.0,289.0 L1333.6,287.0 L1338.2,284.9 L1342.8,282.9 L1347.4,280.8 L1352.0,278.8 L1356.6,276.7 L1361.3,274.7 L1365.9,272.6 L1370.5,270.6 L1375.1,268.6 L1379.8,266.5 L1384.4,264.5 L1389.0,262.5 L1393.7,260.5 L1398.3,258.5 L1402.9,256.5 L1407.6,254.5 L1412.2,252.4 L1416.9,250.4 L1421.5,248.4 L1426.1,246.4 L1430.8,244.4 L1435.4,242.4 L1440.1,240.4 L1444.7,238.5 L1449.4,236.5 L1454.0,234.5 L1458.7,232.5 L1463.3,230.5 L1467.9,228.5 L1472.6,226.5 L1477.2,224.5 L1481.9,222.5 L1486.5,220.6 L1491.2,218.6 L1495.8,216.6 L1500.5,214.6 L1505.1,212.7 L1509.8,210.7 L1514.4,208.7 L1519.1,206.7 L1523.7,204.8 L1528.4,202.8 L1533.0,200.8 L1537.7,198.8 L1542.3,196.8 L1547.0,194.9 L1551.6,192.9 L1556.3,190.9 L1560.9,188.9 L1565.6,186.9 L1570.2,184.9 L1574.9,183.0 L1579.5,181.0 L1584.1,179.0 L1588.8,177.0 L1593.4,175.0 L1598.1,173.0 L1602.7,171.1 L1607.3,169.1 L1612.0,167.1 L1616.6,165.1 L1621.2,163.1 L1625.9,161.1 L1630.5,159.1 L1635.1,157.1 L1639.8,155.1 L1644.4,153.1 L1649.0,151.1 L1653.6,149.0 L1658.3,147.0 L1656.7,143.5 L1652.1,145.6 L1647.5,147.6 L1642.9,149.6 L1638.3,151.7 L1633.7,153.7 L1629.0,155.7 L1624.4,157.7 L1619.8,159.7 L1615.2,161.7 L1610.5,163.8 L1605.9,165.8 L1601.3,167.8 L1596.7,169.8 L1592.0,171.8 L1587.4,173.8 L1582.8,175.8 L1578.1,177.8 L1573.5,179.7 L1568.8,181.7 L1564.2,183.7 L1559.5,185.7 L1554.9,187.7 L1550.3,189.7 L1545.6,191.6 L1541.0,193.6 L1536.3,195.6 L1531.7,197.6 L1527.0,199.6 L1522.4,201.5 L1517.7,203.5 L1513.1,205.5 L1508.4,207.5 L1503.8,209.4 L1499.1,211.4 L1494.5,213.4 L1489.8,215.4 L1485.2,217.3 L1480.5,219.3 L1475.9,221.3 L1471.2,223.3 L1466.6,225.2 L1461.9,227.2 L1457.3,229.2 L1452.6,231.2 L1448.0,233.2 L1443.3,235.1 L1438.7,237.1 L1434.0,239.1 L1429.4,241.1 L1424.7,243.1 L1420.1,245.1 L1415.4,247.1 L1410.8,249.0 L1406.1,251.0 L1401.5,253.0 L1396.8,255.0 L1392.2,257.0 L1387.5,259.0 L1382.9,261.1 L1378.3,263.1 L1373.6,265.1 L1369.0,267.1 L1364.3,269.1 L1359.7,271.1 L1355.1,273.1 L1350.4,275.2 L1345.8,277.2 L1341.2,279.2 L1336.6,281.3 L1331.9,283.3 L1327.3,285.3 L1322.7,287.4 L1318.1,289.4 L1313.4,291.5 L1308.8,293.5 L1304.2,295.6 L1299.6,297.7 L1295.0,299.7 L1290.4,301.8 L1285.8,303.9 L1281.2,306.0 L1276.6,308.1 L1272.0,310.2 L1267.4,312.3 L1262.8,314.4 L1258.2,316.5 L1253.6,318.6 L1249.0,320.7 L1244.4,322.9 L1239.9,325.0 L1235.3,327.2 L1230.7,329.3 L1226.2,331.5 L1221.6,333.6 L1217.0,335.8 L1212.5,338.0 L1207.9,340.2 L1203.4,342.4 L1198.8,344.6 L1194.3,346.8 L1189.8,349.0 L1185.2,351.2 L1180.7,353.5 L1176.2,355.7 L1171.6,357.9 L1167.1,360.2 L1162.6,362.4 L1158.1,364.7 L1153.6,367.0 L1149.1,369.3 L1144.6,371.5 L1140.1,373.8 L1135.6,376.1 L1131.1,378.5 L1126.6,380.8 L1122.1,383.1 L1117.7,385.4 L1113.2,387.8 L1108.7,390.1 L1104.3,392.5 L1099.8,394.9 L1095.4,397.3 L1090.9,399.7 L1086.5,402.1 L1082.0,404.5 L1077.6,406.9 L1073.2,409.3 L1068.7,411.7 L1064.3,414.2 L1059.9,416.7 L1055.5,419.1 L1051.1,421.6 L1046.7,424.1 L1042.3,426.6 L1037.9,429.1 L1033.5,431.6 L1029.2,434.1 L1024.8,436.7 L1020.4,439.2 L1016.1,441.8 L1011.7,444.3 L1007.4,446.9 L1003.0,449.5 L998.7,452.1 L994.4,454.7 L990.0,457.4 L985.7,460.0 L981.4,462.6 L977.1,465.3 L972.8,468.0 L968.5,470.7 L964.2,473.4 L960.0,476.1 L955.7,478.8 L951.4,481.5 L947.2,484.3 L942.9,487.0 L938.7,489.8 L934.4,492.6 L930.2,495.4 L926.0,498.2Z" stroke="none"/>
<circle cx="927.2" cy="500.0" r="2.25" stroke="none"/>
<circle cx="1657.5" cy="145.3" r="1.90" stroke="none"/>
<line x1="40.60" y1="631.50" x2="43.30" y2="1048.00" stroke-width="3.9"/>
<line x1="41.35" y1="1046.00" x2="792.00" y2="1046.30" stroke-width="4.0"/>
<line x1="34.86" y1="695.00" x2="41.01" y2="695.00" stroke-width="2.6"/>
<text x="32.0" y="700.7" font-size="15.6" text-anchor="end" letter-spacing="0.0">275</text>
<line x1="35.09" y1="730.00" x2="41.24" y2="730.00" stroke-width="2.6"/>
<text x="32.5" y="735.7" font-size="15.6" text-anchor="end" letter-spacing="0.0">250</text>
<line x1="35.30" y1="761.25" x2="41.45" y2="761.25" stroke-width="2.6"/>
<text x="32.5" y="766.95" font-size="15.6" text-anchor="end" letter-spacing="0.0">225</text>
<line x1="35.50" y1="793.25" x2="41.65" y2="793.25" stroke-width="2.6"/>
<text x="33.25" y="798.95" font-size="15.6" text-anchor="end" letter-spacing="0.0">200</text>
<line x1="35.72" y1="826.40" x2="41.87" y2="826.40" stroke-width="2.6"/>
<text x="32.3" y="832.1" font-size="15.6" text-anchor="end" letter-spacing="0.0">175</text>
<line x1="35.92" y1="857.00" x2="42.07" y2="857.00" stroke-width="2.6"/>
<text x="33.25" y="862.7" font-size="15.6" text-anchor="end" letter-spacing="0.0">150</text>
<line x1="36.12" y1="887.25" x2="42.27" y2="887.25" stroke-width="2.6"/>
<text x="33.75" y="892.95" font-size="15.6" text-anchor="end" letter-spacing="0.0">125</text>
<line x1="36.32" y1="919.00" x2="42.47" y2="919.00" stroke-width="2.6"/>
<text x="33.75" y="924.7" font-size="15.6" text-anchor="end" letter-spacing="0.0">100</text>
<line x1="36.54" y1="952.25" x2="42.69" y2="952.25" stroke-width="2.6"/>
<text x="33.25" y="957.95" font-size="15.6" text-anchor="end" letter-spacing="0.0">75</text>
<line x1="36.75" y1="984.75" x2="42.90" y2="984.75" stroke-width="2.6"/>
<text x="32.5" y="990.45" font-size="15.6" text-anchor="end" letter-spacing="0.0">50</text>
<line x1="36.95" y1="1016.00" x2="43.10" y2="1016.00" stroke-width="2.6"/>
<text x="35.0" y="1021.7" font-size="15.6" text-anchor="end" letter-spacing="0.0">25</text>
<text x="32.0" y="1052.2" font-size="15.6" text-anchor="end" letter-spacing="0.0">0</text>
<text x="46.0" y="892.95" font-size="15.6" text-anchor="start" letter-spacing="0.0">50</text>
<text x="46.0" y="924.7" font-size="15.6" text-anchor="start" letter-spacing="0.0">40</text>
<text x="46.0" y="957.95" font-size="15.6" text-anchor="start" letter-spacing="0.0">30</text>
<text x="46.0" y="990.45" font-size="15.6" text-anchor="start" letter-spacing="0.0">20</text>
<text x="46.0" y="1022.95" font-size="15.6" text-anchor="start" letter-spacing="0.0">10</text>
<line x1="71.25" y1="1046.01" x2="71.25" y2="1052.01" stroke-width="2.6"/>
<text x="71.25" y="1068.0" font-size="15.6" text-anchor="middle" letter-spacing="0.0">050</text>
<line x1="104.25" y1="1046.02" x2="104.25" y2="1052.02" stroke-width="2.6"/>
<text x="102.5" y="1068.0" font-size="15.6" text-anchor="middle" letter-spacing="0.0">100</text>
<line x1="137.50" y1="1046.04" x2="137.50" y2="1052.04" stroke-width="2.6"/>
<text x="134.4" y="1068.0" font-size="15.6" text-anchor="middle" letter-spacing="0.0">150</text>
<line x1="168.25" y1="1046.05" x2="168.25" y2="1052.05" stroke-width="2.6"/>
<text x="168.75" y="1068.0" font-size="15.6" text-anchor="middle" letter-spacing="0.0">200</text>
<line x1="200.00" y1="1046.06" x2="200.00" y2="1052.06" stroke-width="2.6"/>
<text x="200.0" y="1068.0" font-size="15.6" text-anchor="middle" letter-spacing="0.0">250</text>
<line x1="232.50" y1="1046.08" x2="232.50" y2="1052.08" stroke-width="2.6"/>
<text x="231.6" y="1068.0" font-size="15.6" text-anchor="middle" letter-spacing="0.0">300</text>
<line x1="263.75" y1="1046.09" x2="263.75" y2="1052.09" stroke-width="2.6"/>
<text x="264.75" y="1068.0" font-size="15.6" text-anchor="middle" letter-spacing="0.0">350</text>
<line x1="295.75" y1="1046.10" x2="295.75" y2="1052.10" stroke-width="2.6"/>
<text x="295.6" y="1068.0" font-size="15.6" text-anchor="middle" letter-spacing="0.0">400</text>
<line x1="327.00" y1="1046.11" x2="327.00" y2="1052.11" stroke-width="2.6"/>
<text x="327.5" y="1068.0" font-size="15.6" text-anchor="middle" letter-spacing="0.0">450</text>
<line x1="358.75" y1="1046.13" x2="358.75" y2="1052.13" stroke-width="2.6"/>
<text x="359.1" y="1068.0" font-size="15.6" text-anchor="middle" letter-spacing="0.0">500</text>
<line x1="390.00" y1="1046.14" x2="390.00" y2="1052.14" stroke-width="2.6"/>
<text x="391.25" y="1068.0" font-size="15.6" text-anchor="middle" letter-spacing="0.0">550</text>
<line x1="422.50" y1="1046.15" x2="422.50" y2="1052.15" stroke-width="2.6"/>
<text x="422.5" y="1068.0" font-size="15.6" text-anchor="middle" letter-spacing="0.0">600</text>
<line x1="453.00" y1="1046.16" x2="453.00" y2="1052.16" stroke-width="2.6"/>
<text x="453.5" y="1068.0" font-size="15.6" text-anchor="middle" letter-spacing="0.0">650</text>
<line x1="485.50" y1="1046.18" x2="485.50" y2="1052.18" stroke-width="2.6"/>
<text x="486.0" y="1068.0" font-size="15.6" text-anchor="middle" letter-spacing="0.0">700</text>
<line x1="516.50" y1="1046.19" x2="516.50" y2="1052.19" stroke-width="2.6"/>
<text x="515.75" y="1068.0" font-size="15.6" text-anchor="middle" letter-spacing="0.0">750</text>
<line x1="547.25" y1="1046.20" x2="547.25" y2="1052.20" stroke-width="2.6"/>
<text x="547.1" y="1068.0" font-size="15.6" text-anchor="middle" letter-spacing="0.0">800</text>
<line x1="579.75" y1="1046.21" x2="579.75" y2="1052.21" stroke-width="2.6"/>
<text x="580.25" y="1068.0" font-size="15.6" text-anchor="middle" letter-spacing="0.0">850</text>
<line x1="611.00" y1="1046.23" x2="611.00" y2="1052.23" stroke-width="2.6"/>
<text x="612.25" y="1068.0" font-size="15.6" text-anchor="middle" letter-spacing="0.0">900</text>
<line x1="642.25" y1="1046.24" x2="642.25" y2="1052.24" stroke-width="2.6"/>
<text x="641.9" y="1068.0" font-size="15.6" text-anchor="middle" letter-spacing="0.0">950</text>
<line x1="673.50" y1="1046.25" x2="673.50" y2="1052.25" stroke-width="2.6"/>
<text x="658.50" y="1068.00" font-size="15.6" textLength="42">1.000</text>
<line x1="705.50" y1="1046.27" x2="705.50" y2="1052.27" stroke-width="2.6"/>
<line x1="736.75" y1="1046.28" x2="736.75" y2="1052.28" stroke-width="2.6"/>
<line x1="42.20" y1="632.00" x2="42.30" y2="655.00" stroke-width="6.0"/>
<line x1="42.00" y1="655.00" x2="42.00" y2="674.00" stroke-width="5.0"/>
<text x="307.5" y="695.3" font-size="35" text-anchor="start" textLength="151" lengthAdjust="spacingAndGlyphs" font-style="italic">Hydrogen.</text>
<text x="707.2" y="1066.2" font-size="23" text-anchor="start" textLength="122.5" lengthAdjust="spacingAndGlyphs" font-style="italic">Centimeters</text>
<path d="M55.7,707.2 L55.9,711.2 L56.2,715.1 L56.4,719.1 L56.7,723.1 L56.9,727.1 L57.2,731.1 L57.4,735.1 L57.7,739.1 L58.1,743.2 L58.5,747.2 L58.9,751.2 L59.3,755.2 L59.8,759.2 L60.3,763.2 L60.9,767.2 L61.5,771.1 L62.2,775.1 L62.9,779.1 L63.7,783.1 L64.5,787.0 L65.3,790.9 L66.1,794.8 L66.9,798.7 L67.8,802.7 L68.7,806.6 L69.7,810.6 L70.8,814.5 L72.0,818.4 L73.3,822.2 L74.7,826.1 L76.2,829.8 L77.8,833.6 L79.5,837.3 L81.3,840.9 L83.3,844.5 L85.4,848.0 L87.6,851.5 L89.9,854.9 L92.3,858.2 L94.7,861.4 L97.2,864.6 L99.8,867.7 L102.4,870.8 L105.2,873.8 L108.0,876.7 L110.9,879.6 L114.0,882.3 L117.2,884.9 L120.5,887.3 L123.8,889.6 L127.3,891.8 L130.7,893.9 L134.3,896.0 L137.8,897.9 L141.4,899.8 L145.0,901.6 L148.6,903.4 L152.3,905.1 L156.0,906.7 L159.7,908.3 L163.4,909.9 L167.1,911.4 L170.8,912.9 L174.5,914.4 L178.3,915.9 L182.0,917.3 L185.8,918.6 L189.6,920.0 L193.4,921.3 L197.3,922.5 L201.1,923.7 L204.9,924.9 L208.8,926.0 L212.7,927.1 L216.6,928.1 L220.5,929.1 L224.4,930.1 L228.3,931.0 L232.2,931.9 L236.1,932.8 L240.0,933.6 L243.9,934.4 L247.9,935.2 L251.8,935.9 L255.8,936.6 L259.7,937.3 L263.7,938.0 L267.6,938.6 L271.6,939.3 L275.6,939.9 L279.5,940.4 L283.5,941.0 L287.5,941.5 L291.5,942.0 L295.4,942.5 L299.4,942.9 L303.4,943.3 L307.4,943.8 L311.4,944.2 L315.4,944.6 L319.3,944.9 L323.3,945.3 L327.3,945.7 L331.3,946.0 L335.3,946.4 L339.3,946.7 L343.3,947.0 L347.3,947.3 L351.3,947.7 L355.2,948.0 L359.2,948.3 L363.2,948.6 L367.2,948.9 L371.2,949.2 L375.2,949.6 L379.2,949.9 L383.2,950.2 L387.2,950.5 L391.1,950.8 L395.1,951.1 L399.1,951.4 L403.1,951.7 L407.1,951.9 L411.1,952.2 L415.1,952.5 L419.1,952.8 L423.1,953.1 L427.1,953.4 L431.0,953.7 L435.0,954.0 L439.0,954.3 L443.0,954.6 L447.0,954.9 L451.0,955.2 L455.0,955.5 L459.0,955.8 L463.0,956.1 L466.9,956.3 L470.9,956.6 L474.9,956.9 L478.9,957.2 L482.9,957.5 L486.9,957.8 L490.9,958.1 L494.9,958.4 L498.9,958.6 L502.9,958.9 L506.9,959.2 L510.8,959.5 L514.8,959.7 L518.8,960.0 L522.8,960.3 L526.8,960.5 L530.8,960.8 L534.8,961.1 L538.8,961.3 L542.8,961.6 L546.8,961.8 L550.8,962.1 L554.8,962.3 L558.8,962.6 L562.8,962.8 L566.8,963.0 L570.7,963.3 L574.7,963.5 L578.7,963.7 L582.7,963.9 L586.7,964.2 L590.7,964.4 L594.7,964.6 L598.7,964.8 L602.7,965.0 L606.7,965.2 L610.7,965.4 L614.7,965.6 L618.7,965.8 L622.7,965.9 L626.7,966.1 L630.7,966.3 L634.7,966.4 L638.7,966.6 L642.7,966.8 L646.7,966.9 L650.7,967.1 L654.7,967.2 L658.7,967.4 L662.7,967.5 L666.7,967.7 L670.7,967.8 L674.7,968.0 L678.7,968.1 L682.7,968.3 L686.7,968.4 L690.7,968.5 L694.7,968.7 L698.7,968.8 L702.7,969.0 L706.7,969.1 L710.7,969.2 L714.7,969.3 L718.7,969.5 L722.7,969.6 L726.7,969.7 L730.7,969.8 L734.7,970.0 L738.7,970.1 L742.7,970.2 L746.7,970.3 L750.7,970.4 L754.7,970.6 L755.7,970.6 L755.8,965.8 L754.8,965.8 L750.8,965.6 L746.8,965.5 L742.8,965.4 L738.8,965.3 L734.8,965.2 L730.8,965.0 L726.8,964.9 L722.8,964.8 L718.8,964.7 L714.8,964.5 L710.8,964.4 L706.8,964.3 L702.8,964.2 L698.8,964.0 L694.8,963.9 L690.8,963.8 L686.8,963.6 L682.9,963.5 L678.9,963.4 L674.9,963.2 L670.9,963.1 L666.9,963.0 L662.9,962.8 L658.9,962.7 L654.9,962.5 L650.9,962.4 L646.9,962.2 L642.9,962.1 L638.9,961.9 L634.9,961.8 L630.9,961.6 L626.9,961.5 L622.9,961.3 L618.9,961.1 L614.9,960.9 L610.9,960.8 L606.9,960.6 L602.9,960.4 L599.0,960.2 L595.0,960.0 L591.0,959.8 L587.0,959.6 L583.0,959.4 L579.0,959.1 L575.0,958.9 L571.0,958.7 L567.0,958.4 L563.0,958.2 L559.0,958.0 L555.1,957.7 L551.1,957.5 L547.1,957.2 L543.1,957.0 L539.1,956.7 L535.1,956.5 L531.1,956.2 L527.1,955.9 L523.1,955.7 L519.1,955.4 L515.1,955.2 L511.2,954.9 L507.2,954.6 L503.2,954.3 L499.2,954.1 L495.2,953.8 L491.2,953.5 L487.2,953.2 L483.2,952.9 L479.2,952.6 L475.3,952.3 L471.3,952.1 L467.3,951.8 L463.3,951.5 L459.3,951.2 L455.3,950.9 L451.3,950.6 L447.3,950.3 L443.3,950.0 L439.4,949.7 L435.4,949.4 L431.4,949.1 L427.4,948.8 L423.4,948.5 L419.4,948.2 L415.4,947.9 L411.4,947.7 L407.4,947.4 L403.5,947.1 L399.5,946.8 L395.5,946.5 L391.5,946.2 L387.5,945.9 L383.5,945.6 L379.5,945.3 L375.5,945.0 L371.6,944.7 L367.6,944.3 L363.6,944.0 L359.6,943.7 L355.6,943.4 L351.6,943.1 L347.6,942.8 L343.7,942.4 L339.7,942.1 L335.7,941.8 L331.7,941.4 L327.7,941.1 L323.8,940.7 L319.8,940.4 L315.8,940.0 L311.8,939.6 L307.9,939.2 L303.9,938.8 L299.9,938.3 L296.0,937.9 L292.0,937.4 L288.1,936.9 L284.1,936.4 L280.2,935.9 L276.2,935.3 L272.3,934.7 L268.4,934.1 L264.4,933.5 L260.5,932.8 L256.6,932.1 L252.7,931.4 L248.8,930.7 L244.9,929.9 L241.0,929.1 L237.1,928.3 L233.2,927.4 L229.3,926.5 L225.4,925.6 L221.6,924.7 L217.7,923.7 L213.9,922.6 L210.1,921.6 L206.3,920.5 L202.5,919.3 L198.7,918.1 L194.9,916.9 L191.2,915.6 L187.4,914.2 L183.7,912.9 L180.0,911.4 L176.3,910.0 L172.6,908.5 L168.9,907.0 L165.2,905.4 L161.6,903.9 L157.9,902.3 L154.3,900.6 L150.7,898.9 L147.2,897.2 L143.7,895.4 L140.2,893.5 L136.7,891.6 L133.3,889.6 L130.0,887.5 L126.7,885.4 L123.5,883.2 L120.4,880.8 L117.4,878.4 L114.5,875.8 L111.7,873.0 L109.0,870.2 L106.4,867.3 L103.9,864.3 L101.4,861.2 L99.0,858.1 L96.6,854.9 L94.3,851.7 L92.2,848.5 L90.1,845.2 L88.1,841.8 L86.3,838.4 L84.5,834.9 L82.9,831.3 L81.4,827.7 L80.0,824.0 L78.7,820.3 L77.5,816.6 L76.3,812.9 L75.3,809.1 L74.3,805.3 L73.5,801.4 L72.6,797.5 L71.8,793.6 L71.0,789.7 L70.1,785.8 L69.3,781.9 L68.5,778.0 L67.7,774.1 L67.0,770.2 L66.4,766.3 L65.8,762.4 L65.3,758.5 L64.8,754.5 L64.3,750.6 L63.8,746.6 L63.5,742.7 L63.1,738.7 L62.8,734.8 L62.6,730.8 L62.3,726.8 L62.1,722.8 L61.8,718.8 L61.6,714.8 L61.3,710.8 L61.1,706.8Z" stroke="none"/>
<circle cx="58.4" cy="707.0" r="2.70" stroke="none"/>
<circle cx="755.7" cy="968.2" r="2.40" stroke="none"/>
<path d="M57.8,1034.7 L62.3,1032.6 L66.9,1030.5 L71.5,1028.4 L76.1,1026.3 L80.7,1024.3 L85.3,1022.2 L89.9,1020.2 L94.5,1018.2 L99.1,1016.1 L103.7,1014.1 L108.4,1012.1 L113.0,1010.1 L117.6,1008.2 L122.3,1006.2 L126.9,1004.2 L131.5,1002.3 L136.2,1000.4 L140.8,998.4 L145.5,996.5 L150.2,994.6 L154.8,992.7 L159.5,990.8 L164.2,988.9 L168.9,987.1 L173.5,985.2 L178.2,983.4 L182.9,981.5 L187.6,979.7 L192.3,977.9 L197.0,976.1 L201.7,974.3 L206.4,972.5 L211.1,970.7 L215.9,969.0 L220.6,967.2 L225.3,965.5 L230.0,963.7 L234.8,962.0 L239.5,960.3 L244.2,958.6 L249.0,956.9 L253.7,955.2 L258.5,953.6 L263.2,951.9 L268.0,950.2 L272.7,948.6 L277.5,947.0 L282.3,945.3 L287.0,943.7 L291.8,942.1 L296.6,940.5 L301.4,938.9 L306.1,937.4 L310.9,935.8 L315.7,934.3 L320.5,932.7 L325.3,931.2 L330.1,929.6 L334.9,928.1 L339.7,926.6 L344.5,925.1 L349.3,923.7 L354.1,922.2 L358.9,920.7 L363.8,919.3 L368.6,917.8 L373.4,916.4 L378.2,914.9 L383.1,913.5 L387.9,912.1 L392.7,910.7 L397.6,909.3 L402.4,907.9 L407.2,906.6 L412.1,905.2 L416.9,903.8 L421.8,902.5 L426.6,901.1 L431.5,899.8 L436.3,898.5 L441.2,897.1 L446.0,895.8 L450.9,894.5 L455.8,893.2 L460.6,891.9 L465.5,890.7 L470.4,889.4 L475.2,888.1 L480.1,886.9 L485.0,885.6 L489.9,884.4 L494.8,883.1 L499.6,881.9 L504.5,880.7 L509.4,879.5 L514.3,878.2 L519.2,877.0 L524.1,875.8 L529.0,874.6 L533.9,873.5 L538.8,872.3 L543.7,871.1 L548.6,869.9 L553.5,868.8 L558.4,867.6 L563.3,866.5 L568.2,865.3 L573.1,864.2 L578.0,863.0 L582.9,861.9 L587.8,860.8 L592.7,859.6 L597.6,858.5 L602.5,857.4 L607.5,856.3 L612.4,855.2 L617.3,854.1 L622.2,853.0 L627.1,851.9 L632.1,850.8 L637.0,849.8 L641.9,848.7 L646.8,847.6 L651.7,846.5 L656.7,845.5 L661.6,844.4 L666.5,843.3 L671.5,842.3 L676.4,841.2 L681.3,840.2 L686.2,839.1 L691.2,838.1 L696.1,837.1 L701.0,836.0 L706.0,835.0 L710.9,834.0 L715.8,832.9 L720.8,831.9 L725.7,830.9 L730.6,829.9 L735.6,828.8 L740.5,827.8 L745.5,826.8 L750.4,825.8 L755.3,824.8 L760.3,823.8 L759.4,819.4 L754.4,820.4 L749.5,821.4 L744.5,822.4 L739.6,823.4 L734.7,824.4 L729.7,825.4 L724.8,826.5 L719.9,827.5 L714.9,828.5 L710.0,829.6 L705.1,830.6 L700.1,831.6 L695.2,832.7 L690.2,833.7 L685.3,834.7 L680.4,835.8 L675.4,836.8 L670.5,837.9 L665.6,838.9 L660.7,840.0 L655.7,841.1 L650.8,842.1 L645.9,843.2 L640.9,844.3 L636.0,845.4 L631.1,846.4 L626.2,847.5 L621.2,848.6 L616.3,849.7 L611.4,850.8 L606.5,851.9 L601.6,853.0 L596.6,854.1 L591.7,855.3 L586.8,856.4 L581.9,857.5 L577.0,858.6 L572.1,859.8 L567.1,860.9 L562.2,862.1 L557.3,863.2 L552.4,864.4 L547.5,865.6 L542.6,866.7 L537.7,867.9 L532.8,869.1 L527.9,870.3 L523.0,871.5 L518.1,872.7 L513.2,873.9 L508.3,875.1 L503.4,876.3 L498.5,877.5 L493.6,878.8 L488.8,880.0 L483.9,881.3 L479.0,882.5 L474.1,883.8 L469.2,885.0 L464.4,886.3 L459.5,887.6 L454.6,888.9 L449.7,890.2 L444.9,891.5 L440.0,892.8 L435.1,894.1 L430.3,895.5 L425.4,896.8 L420.6,898.1 L415.7,899.5 L410.9,900.9 L406.0,902.2 L401.2,903.6 L396.3,905.0 L391.5,906.4 L386.6,907.8 L381.8,909.2 L377.0,910.6 L372.1,912.1 L367.3,913.5 L362.5,914.9 L357.6,916.4 L352.8,917.9 L348.0,919.3 L343.2,920.8 L338.4,922.3 L333.5,923.8 L328.7,925.4 L323.9,926.9 L319.1,928.4 L314.3,930.0 L309.5,931.5 L304.7,933.1 L299.9,934.7 L295.2,936.3 L290.4,937.9 L285.6,939.5 L280.8,941.1 L276.0,942.7 L271.3,944.3 L266.5,946.0 L261.7,947.6 L257.0,949.3 L252.2,951.0 L247.5,952.7 L242.7,954.4 L238.0,956.1 L233.2,957.8 L228.5,959.5 L223.7,961.3 L219.0,963.0 L214.3,964.8 L209.6,966.5 L204.8,968.3 L200.1,970.1 L195.4,971.9 L190.7,973.7 L186.0,975.5 L181.3,977.4 L176.6,979.2 L171.9,981.0 L167.2,982.9 L162.5,984.8 L157.8,986.7 L153.1,988.5 L148.5,990.4 L143.8,992.4 L139.1,994.3 L134.5,996.2 L129.8,998.1 L125.2,1000.1 L120.5,1002.1 L115.9,1004.0 L111.2,1006.0 L106.6,1008.0 L101.9,1010.0 L97.3,1012.0 L92.7,1014.0 L88.1,1016.1 L83.5,1018.1 L78.9,1020.2 L74.2,1022.2 L69.6,1024.3 L65.0,1026.4 L60.5,1028.5 L55.9,1030.6Z" stroke="none"/>
<circle cx="56.8" cy="1032.6" r="2.25" stroke="none"/>
<circle cx="759.8" cy="821.6" r="2.25" stroke="none"/>
<line x1="917.70" y1="566.50" x2="918.60" y2="1047.00" stroke-width="2.8"/>
<line x1="917.20" y1="1045.70" x2="1633.50" y2="1045.00" stroke-width="2.6"/>
<line x1="912.23" y1="633.75" x2="917.83" y2="633.75" stroke-width="2.2"/>
<line x1="912.29" y1="668.00" x2="917.89" y2="668.00" stroke-width="2.2"/>
<text x="907.5" y="673.7" font-size="15.6" text-anchor="end" letter-spacing="0.0">300</text>
<line x1="912.34" y1="695.00" x2="917.94" y2="695.00" stroke-width="2.2"/>
<text x="907.5" y="700.7" font-size="15.6" text-anchor="end" letter-spacing="0.0">275</text>
<line x1="912.40" y1="727.50" x2="918.00" y2="727.50" stroke-width="2.2"/>
<text x="908.0" y="733.2" font-size="15.6" text-anchor="end" letter-spacing="0.0">250</text>
<line x1="912.46" y1="759.50" x2="918.06" y2="759.50" stroke-width="2.2"/>
<text x="908.0" y="765.2" font-size="15.6" text-anchor="end" letter-spacing="0.0">225</text>
<line x1="912.52" y1="788.75" x2="918.12" y2="788.75" stroke-width="2.2"/>
<text x="908.75" y="794.45" font-size="15.6" text-anchor="end" letter-spacing="0.0">200</text>
<line x1="912.58" y1="820.00" x2="918.18" y2="820.00" stroke-width="2.2"/>
<text x="908.75" y="825.7" font-size="15.6" text-anchor="end" letter-spacing="0.0">175</text>
<line x1="912.64" y1="851.75" x2="918.24" y2="851.75" stroke-width="2.2"/>
<text x="908.75" y="857.45" font-size="15.6" text-anchor="end" letter-spacing="0.0">150</text>
<line x1="912.69" y1="883.00" x2="918.29" y2="883.00" stroke-width="2.2"/>
<text x="909.5" y="888.7" font-size="15.6" text-anchor="end" letter-spacing="0.0">125</text>
<line x1="912.76" y1="915.50" x2="918.36" y2="915.50" stroke-width="2.2"/>
<text x="909.5" y="921.2" font-size="15.6" text-anchor="end" letter-spacing="0.0">100</text>
<line x1="912.82" y1="948.00" x2="918.42" y2="948.00" stroke-width="2.2"/>
<text x="908.75" y="953.7" font-size="15.6" text-anchor="end" letter-spacing="0.0">75</text>
<line x1="912.87" y1="978.50" x2="918.47" y2="978.50" stroke-width="2.2"/>
<text x="908.75" y="984.2" font-size="15.6" text-anchor="end" letter-spacing="0.0">50</text>
<line x1="912.93" y1="1009.75" x2="918.53" y2="1009.75" stroke-width="2.2"/>
<text x="909.5" y="1015.45" font-size="15.6" text-anchor="end" letter-spacing="0.0">25</text>
<text x="905.5" y="1052.2" font-size="15.6" text-anchor="end" letter-spacing="0.0">0</text>
<text x="921.0" y="794.45" font-size="15.6" text-anchor="start" letter-spacing="0.0">80</text>
<text x="921.0" y="826.0" font-size="15.6" text-anchor="start" letter-spacing="0.0">70</text>
<text x="921.0" y="857.45" font-size="15.6" text-anchor="start" letter-spacing="0.0">60</text>
<text x="921.0" y="888.7" font-size="15.6" text-anchor="start" letter-spacing="0.0">50</text>
<text x="921.0" y="921.2" font-size="15.6" text-anchor="start" letter-spacing="0.0">40</text>
<text x="921.0" y="953.7" font-size="15.6" text-anchor="start" letter-spacing="0.0">30</text>
<text x="921.0" y="984.2" font-size="15.6" text-anchor="start" letter-spacing="0.0">20</text>
<text x="921.0" y="1015.45" font-size="15.6" text-anchor="start" letter-spacing="0.0">10</text>
<line x1="948.00" y1="1045.67" x2="948.00" y2="1050.77" stroke-width="2.2"/>
<text x="947.5" y="1066.9" font-size="15.6" text-anchor="middle" letter-spacing="0.0">050</text>
<line x1="978.75" y1="1045.64" x2="978.75" y2="1050.74" stroke-width="2.2"/>
<text x="978.1" y="1066.82" font-size="15.6" text-anchor="middle" letter-spacing="0.0">100</text>
<line x1="1010.00" y1="1045.61" x2="1010.00" y2="1050.71" stroke-width="2.2"/>
<text x="1010.0" y="1066.73" font-size="15.6" text-anchor="middle" letter-spacing="0.0">150</text>
<line x1="1042.00" y1="1045.58" x2="1042.00" y2="1050.68" stroke-width="2.2"/>
<text x="1041.0" y="1066.65" font-size="15.6" text-anchor="middle" letter-spacing="0.0">200</text>
<line x1="1072.50" y1="1045.55" x2="1072.50" y2="1050.65" stroke-width="2.2"/>
<text x="1072.5" y="1066.56" font-size="15.6" text-anchor="middle" letter-spacing="0.0">250</text>
<line x1="1103.00" y1="1045.52" x2="1103.00" y2="1050.62" stroke-width="2.2"/>
<text x="1103.75" y="1066.48" font-size="15.6" text-anchor="middle" letter-spacing="0.0">300</text>
<line x1="1135.00" y1="1045.49" x2="1135.00" y2="1050.59" stroke-width="2.2"/>
<text x="1135.0" y="1066.39" font-size="15.6" text-anchor="middle" letter-spacing="0.0">350</text>
<line x1="1165.50" y1="1045.46" x2="1165.50" y2="1050.56" stroke-width="2.2"/>
<text x="1165.9" y="1066.31" font-size="15.6" text-anchor="middle" letter-spacing="0.0">400</text>
<line x1="1195.75" y1="1045.43" x2="1195.75" y2="1050.53" stroke-width="2.2"/>
<text x="1195.75" y="1066.23" font-size="15.6" text-anchor="middle" letter-spacing="0.0">450</text>
<line x1="1226.25" y1="1045.40" x2="1226.25" y2="1050.50" stroke-width="2.2"/>
<text x="1227.5" y="1066.15" font-size="15.6" text-anchor="middle" letter-spacing="0.0">500</text>
<line x1="1257.50" y1="1045.37" x2="1257.50" y2="1050.47" stroke-width="2.2"/>
<text x="1257.5" y="1066.06" font-size="15.6" text-anchor="middle" letter-spacing="0.0">550</text>
<line x1="1287.50" y1="1045.34" x2="1287.50" y2="1050.44" stroke-width="2.2"/>
<text x="1288.25" y="1065.98" font-size="15.6" text-anchor="middle" letter-spacing="0.0">600</text>
<line x1="1318.50" y1="1045.31" x2="1318.50" y2="1050.41" stroke-width="2.2"/>
<text x="1319.25" y="1065.9" font-size="15.6" text-anchor="middle" letter-spacing="0.0">650</text>
<line x1="1349.00" y1="1045.28" x2="1349.00" y2="1050.38" stroke-width="2.2"/>
<text x="1350.25" y="1065.81" font-size="15.6" text-anchor="middle" letter-spacing="0.0">700</text>
<line x1="1380.75" y1="1045.25" x2="1380.75" y2="1050.35" stroke-width="2.2"/>
<text x="1381.5" y="1065.73" font-size="15.6" text-anchor="middle" letter-spacing="0.0">750</text>
<line x1="1411.50" y1="1045.22" x2="1411.50" y2="1050.32" stroke-width="2.2"/>
<text x="1413.25" y="1065.65" font-size="15.6" text-anchor="middle" letter-spacing="0.0">800</text>
<line x1="1442.25" y1="1045.19" x2="1442.25" y2="1050.29" stroke-width="2.2"/>
<text x="1444.0" y="1065.56" font-size="15.6" text-anchor="middle" letter-spacing="0.0">850</text>
<line x1="1472.75" y1="1045.16" x2="1472.75" y2="1050.26" stroke-width="2.2"/>
<text x="1474.25" y="1065.48" font-size="15.6" text-anchor="middle" letter-spacing="0.0">900</text>
<line x1="1503.25" y1="1045.13" x2="1503.25" y2="1050.23" stroke-width="2.2"/>
<text x="1503.4" y="1065.4" font-size="15.6" text-anchor="middle" letter-spacing="0.0">950</text>
<line x1="1533.50" y1="1045.10" x2="1533.50" y2="1050.20" stroke-width="2.2"/>
<text x="1520.60" y="1065.30" font-size="15.6" textLength="42">1.000</text>
<text x="1138.3" y="686" font-size="36" text-anchor="start" textLength="100.5" lengthAdjust="spacingAndGlyphs" font-style="italic">Carbon</text>
<text x="1250.3" y="686" font-size="36" text-anchor="start" textLength="116.5" lengthAdjust="spacingAndGlyphs" font-style="italic">Dioxide.</text>
<text x="1086.2" y="1034.2" font-size="21" text-anchor="start" textLength="80" lengthAdjust="spacingAndGlyphs" font-style="italic">Lengths</text>
<text x="1178.2" y="1034.2" font-size="21" text-anchor="start" textLength="17.5" lengthAdjust="spacingAndGlyphs" font-style="italic">in</text>
<text x="1211.6" y="1034.2" font-size="21" text-anchor="start" textLength="124.5" lengthAdjust="spacingAndGlyphs" font-style="italic">Centimeters</text>
<path d="M922.0,627.6 L922.2,631.6 L922.3,635.6 L922.5,639.6 L922.7,643.6 L922.9,647.6 L923.1,651.6 L923.3,655.6 L923.6,659.6 L924.0,663.6 L924.4,667.6 L924.8,671.6 L925.2,675.6 L925.7,679.6 L926.1,683.6 L926.6,687.6 L927.1,691.6 L927.7,695.5 L928.2,699.5 L928.9,703.5 L929.6,707.5 L930.3,711.4 L931.1,715.4 L931.9,719.3 L932.8,723.3 L933.7,727.2 L934.6,731.1 L935.6,735.0 L936.6,738.9 L937.7,742.8 L938.8,746.6 L939.9,750.5 L941.1,754.4 L942.3,758.2 L943.6,762.0 L945.0,765.8 L946.5,769.6 L948.0,773.4 L949.7,777.1 L951.6,780.7 L953.6,784.3 L955.7,787.8 L958.0,791.2 L960.4,794.5 L962.8,797.7 L965.3,800.9 L967.9,804.0 L970.5,807.1 L973.2,810.1 L976.0,813.1 L978.9,816.0 L981.8,818.8 L984.7,821.6 L987.7,824.3 L990.8,826.9 L994.0,829.4 L997.1,831.9 L1000.3,834.4 L1003.5,836.8 L1006.8,839.2 L1010.0,841.6 L1013.3,843.9 L1016.7,846.2 L1020.1,848.3 L1023.6,850.4 L1027.1,852.4 L1030.7,854.4 L1034.3,856.2 L1037.9,858.0 L1041.5,859.7 L1045.1,861.4 L1048.8,863.1 L1052.5,864.7 L1056.1,866.3 L1059.8,867.9 L1063.5,869.5 L1067.3,871.0 L1071.1,872.4 L1074.9,873.7 L1078.7,875.0 L1082.5,876.2 L1086.4,877.4 L1090.2,878.5 L1094.1,879.6 L1098.0,880.6 L1101.9,881.6 L1105.8,882.5 L1109.7,883.4 L1113.6,884.3 L1117.5,885.1 L1121.5,885.9 L1125.4,886.7 L1129.4,887.4 L1133.3,888.1 L1137.3,888.7 L1141.2,889.4 L1145.2,890.0 L1149.2,890.6 L1153.1,891.1 L1157.1,891.7 L1161.1,892.2 L1165.0,892.7 L1169.0,893.2 L1173.0,893.7 L1177.0,894.1 L1181.0,894.6 L1184.9,895.0 L1188.9,895.5 L1192.9,895.9 L1196.9,896.3 L1200.9,896.7 L1204.9,897.1 L1208.8,897.4 L1212.8,897.8 L1216.8,898.2 L1220.8,898.5 L1224.8,898.9 L1228.8,899.2 L1232.8,899.6 L1236.8,899.9 L1240.7,900.3 L1244.7,900.6 L1248.7,900.9 L1252.7,901.2 L1256.7,901.6 L1260.7,901.9 L1264.7,902.2 L1268.7,902.5 L1272.7,902.8 L1276.6,903.1 L1280.6,903.4 L1284.6,903.7 L1288.6,904.1 L1292.6,904.4 L1296.6,904.6 L1300.6,904.9 L1304.6,905.2 L1308.6,905.5 L1312.6,905.8 L1316.5,906.1 L1320.5,906.4 L1324.5,906.6 L1328.5,906.9 L1332.5,907.2 L1336.5,907.5 L1340.5,907.7 L1344.5,908.0 L1348.5,908.3 L1352.5,908.5 L1356.5,908.8 L1360.5,909.0 L1364.5,909.3 L1368.5,909.5 L1372.4,909.8 L1376.4,910.0 L1380.4,910.2 L1384.4,910.5 L1388.4,910.7 L1392.4,911.0 L1396.4,911.2 L1400.4,911.4 L1404.4,911.6 L1408.4,911.9 L1412.4,912.1 L1416.4,912.3 L1420.4,912.5 L1424.4,912.7 L1428.4,912.9 L1432.4,913.1 L1436.4,913.3 L1440.4,913.5 L1444.4,913.7 L1448.4,913.9 L1452.4,914.1 L1456.4,914.3 L1460.4,914.5 L1464.4,914.7 L1468.3,914.9 L1472.3,915.0 L1476.3,915.2 L1480.3,915.4 L1484.3,915.6 L1488.3,915.7 L1492.3,915.9 L1496.3,916.1 L1500.3,916.2 L1504.3,916.4 L1508.3,916.6 L1512.3,916.7 L1516.3,916.9 L1520.3,917.0 L1524.3,917.2 L1528.3,917.3 L1532.3,917.5 L1536.3,917.6 L1540.3,917.7 L1544.3,917.8 L1548.3,918.0 L1552.3,918.1 L1556.3,918.2 L1556.5,913.4 L1552.5,913.3 L1548.5,913.2 L1544.5,913.1 L1540.5,912.9 L1536.5,912.8 L1532.5,912.7 L1528.5,912.5 L1524.5,912.4 L1520.5,912.2 L1516.5,912.1 L1512.5,912.0 L1508.5,911.8 L1504.5,911.7 L1500.5,911.5 L1496.5,911.3 L1492.5,911.2 L1488.5,911.0 L1484.5,910.9 L1480.5,910.7 L1476.5,910.5 L1472.5,910.4 L1468.6,910.2 L1464.6,910.0 L1460.6,909.8 L1456.6,909.7 L1452.6,909.5 L1448.6,909.3 L1444.6,909.1 L1440.6,908.9 L1436.6,908.7 L1432.6,908.5 L1428.6,908.3 L1424.6,908.1 L1420.6,907.9 L1416.6,907.7 L1412.6,907.5 L1408.7,907.3 L1404.7,907.0 L1400.7,906.8 L1396.7,906.6 L1392.7,906.4 L1388.7,906.1 L1384.7,905.9 L1380.7,905.7 L1376.7,905.4 L1372.7,905.2 L1368.7,904.9 L1364.7,904.7 L1360.8,904.4 L1356.8,904.2 L1352.8,903.9 L1348.8,903.7 L1344.8,903.4 L1340.8,903.1 L1336.8,902.9 L1332.8,902.6 L1328.8,902.3 L1324.8,902.1 L1320.9,901.8 L1316.9,901.5 L1312.9,901.2 L1308.9,900.9 L1304.9,900.6 L1300.9,900.4 L1296.9,900.1 L1292.9,899.8 L1289.0,899.5 L1285.0,899.2 L1281.0,898.9 L1277.0,898.6 L1273.0,898.2 L1269.0,897.9 L1265.0,897.6 L1261.1,897.3 L1257.1,897.0 L1253.1,896.7 L1249.1,896.3 L1245.1,896.0 L1241.1,895.7 L1237.1,895.3 L1233.2,895.0 L1229.2,894.7 L1225.2,894.3 L1221.2,893.9 L1217.2,893.6 L1213.3,893.2 L1209.3,892.9 L1205.3,892.5 L1201.3,892.1 L1197.3,891.7 L1193.4,891.3 L1189.4,890.9 L1185.4,890.5 L1181.5,890.0 L1177.5,889.6 L1173.5,889.1 L1169.6,888.6 L1165.6,888.2 L1161.7,887.6 L1157.7,887.1 L1153.8,886.6 L1149.8,886.0 L1145.9,885.4 L1141.9,884.8 L1138.0,884.2 L1134.1,883.5 L1130.2,882.9 L1126.3,882.1 L1122.4,881.4 L1118.5,880.6 L1114.6,879.8 L1110.7,879.0 L1106.8,878.1 L1103.0,877.1 L1099.1,876.1 L1095.3,875.1 L1091.5,874.1 L1087.7,873.0 L1083.9,871.8 L1080.1,870.6 L1076.4,869.4 L1072.6,868.1 L1068.9,866.7 L1065.3,865.2 L1061.6,863.7 L1058.0,862.1 L1054.3,860.5 L1050.7,858.9 L1047.1,857.2 L1043.5,855.5 L1039.9,853.8 L1036.3,852.1 L1032.8,850.3 L1029.3,848.4 L1025.9,846.5 L1022.5,844.4 L1019.2,842.3 L1016.0,840.1 L1012.7,837.8 L1009.5,835.4 L1006.3,833.1 L1003.2,830.6 L1000.0,828.2 L996.9,825.7 L993.9,823.2 L990.9,820.7 L988.0,818.0 L985.1,815.3 L982.3,812.6 L979.5,809.7 L976.8,806.8 L974.2,803.9 L971.6,800.9 L969.1,797.9 L966.7,794.7 L964.3,791.6 L962.1,788.4 L959.9,785.1 L957.9,781.8 L956.0,778.4 L954.2,774.9 L952.6,771.4 L951.1,767.8 L949.7,764.1 L948.4,760.4 L947.1,756.6 L945.9,752.9 L944.7,749.1 L943.6,745.3 L942.5,741.4 L941.5,737.6 L940.5,733.8 L939.5,729.9 L938.6,726.0 L937.7,722.2 L936.8,718.3 L936.0,714.4 L935.2,710.5 L934.5,706.6 L933.8,702.7 L933.1,698.8 L932.5,694.8 L932.0,690.9 L931.4,687.0 L930.9,683.0 L930.4,679.0 L929.9,675.1 L929.4,671.1 L929.0,667.2 L928.6,663.2 L928.2,659.2 L927.8,655.3 L927.5,651.3 L927.3,647.3 L927.0,643.4 L926.8,639.4 L926.6,635.4 L926.4,631.4 L926.2,627.4Z" stroke="none"/>
<circle cx="924.1" cy="627.5" r="2.10" stroke="none"/>
<circle cx="1556.4" cy="915.8" r="2.40" stroke="none"/>
<path d="M928.5,1025.4 L932.8,1022.9 L937.1,1020.4 L941.5,1017.9 L945.8,1015.4 L950.1,1012.9 L954.4,1010.4 L958.8,1007.9 L963.1,1005.3 L967.5,1002.8 L971.8,1000.3 L976.2,997.8 L980.5,995.2 L984.9,992.7 L989.2,990.2 L993.6,987.7 L998.0,985.1 L1002.3,982.6 L1006.7,980.1 L1011.1,977.5 L1015.5,975.0 L1019.8,972.5 L1024.2,969.9 L1028.6,967.4 L1033.0,964.9 L1037.4,962.4 L1041.8,959.8 L1046.2,957.3 L1050.6,954.8 L1055.0,952.3 L1059.4,949.8 L1063.8,947.3 L1068.2,944.7 L1072.6,942.2 L1077.1,939.8 L1081.5,937.3 L1085.9,934.8 L1090.4,932.3 L1094.8,929.8 L1099.2,927.3 L1103.7,924.9 L1108.1,922.4 L1112.6,920.0 L1117.0,917.5 L1121.5,915.1 L1125.9,912.7 L1130.4,910.2 L1134.9,907.8 L1139.3,905.4 L1143.8,903.0 L1148.3,900.6 L1152.7,898.3 L1157.2,895.9 L1161.7,893.5 L1166.2,891.2 L1170.7,888.8 L1175.2,886.5 L1179.7,884.2 L1184.2,881.9 L1188.7,879.6 L1193.2,877.3 L1197.7,875.0 L1202.2,872.8 L1206.8,870.5 L1211.3,868.3 L1215.8,866.1 L1220.3,863.9 L1224.9,861.7 L1229.4,859.5 L1234.0,857.3 L1238.5,855.1 L1243.1,853.0 L1247.6,850.8 L1252.2,848.7 L1256.7,846.6 L1261.3,844.5 L1265.9,842.3 L1270.4,840.3 L1275.0,838.2 L1279.6,836.1 L1284.1,834.0 L1288.7,832.0 L1293.3,829.9 L1297.9,827.9 L1302.5,825.8 L1307.1,823.8 L1311.7,821.8 L1316.3,819.8 L1320.9,817.8 L1325.5,815.8 L1330.1,813.8 L1334.7,811.8 L1339.4,809.8 L1344.0,807.9 L1348.6,805.9 L1353.2,804.0 L1357.9,802.0 L1362.5,800.1 L1367.2,798.2 L1371.8,796.2 L1376.4,794.3 L1381.1,792.4 L1385.7,790.5 L1390.4,788.6 L1395.1,786.7 L1399.7,784.8 L1404.4,782.9 L1409.1,781.0 L1413.7,779.2 L1418.4,777.3 L1423.1,775.4 L1427.8,773.5 L1432.4,771.7 L1437.1,769.8 L1441.8,768.0 L1446.5,766.1 L1451.2,764.3 L1455.9,762.4 L1460.6,760.6 L1465.3,758.7 L1470.0,756.9 L1474.7,755.0 L1479.5,753.2 L1484.2,751.4 L1488.9,749.5 L1493.6,747.7 L1498.3,745.9 L1503.1,744.0 L1507.8,742.2 L1512.5,740.4 L1517.3,738.5 L1522.0,736.7 L1526.8,734.9 L1531.5,733.1 L1536.2,731.2 L1541.0,729.4 L1545.8,727.6 L1550.5,725.7 L1555.3,723.9 L1560.0,722.0 L1564.8,720.2 L1569.6,718.4 L1568.1,714.6 L1563.3,716.5 L1558.6,718.3 L1553.8,720.1 L1549.1,722.0 L1544.3,723.8 L1539.6,725.7 L1534.8,727.5 L1530.1,729.3 L1525.3,731.2 L1520.6,733.0 L1515.8,734.8 L1511.1,736.6 L1506.4,738.5 L1501.6,740.3 L1496.9,742.1 L1492.2,744.0 L1487.5,745.8 L1482.7,747.6 L1478.0,749.5 L1473.3,751.3 L1468.6,753.2 L1463.9,755.0 L1459.2,756.8 L1454.5,758.7 L1449.8,760.5 L1445.1,762.4 L1440.4,764.2 L1435.7,766.1 L1431.0,768.0 L1426.3,769.8 L1421.6,771.7 L1416.9,773.5 L1412.2,775.4 L1407.6,777.3 L1402.9,779.2 L1398.2,781.0 L1393.5,782.9 L1388.9,784.8 L1384.2,786.7 L1379.5,788.6 L1374.9,790.5 L1370.2,792.4 L1365.6,794.3 L1360.9,796.3 L1356.3,798.2 L1351.6,800.1 L1347.0,802.1 L1342.4,804.0 L1337.7,806.0 L1333.1,807.9 L1328.5,809.9 L1323.8,811.9 L1319.2,813.9 L1314.6,815.9 L1310.0,817.9 L1305.4,819.9 L1300.8,821.9 L1296.2,823.9 L1291.6,825.9 L1287.0,828.0 L1282.4,830.0 L1277.8,832.1 L1273.2,834.1 L1268.6,836.2 L1264.0,838.3 L1259.4,840.4 L1254.8,842.5 L1250.3,844.6 L1245.7,846.8 L1241.1,848.9 L1236.6,851.1 L1232.0,853.2 L1227.5,855.4 L1222.9,857.6 L1218.4,859.8 L1213.8,862.0 L1209.3,864.3 L1204.8,866.5 L1200.2,868.7 L1195.7,871.0 L1191.2,873.3 L1186.7,875.6 L1182.1,877.9 L1177.6,880.2 L1173.1,882.5 L1168.6,884.8 L1164.1,887.2 L1159.6,889.5 L1155.1,891.9 L1150.6,894.3 L1146.2,896.7 L1141.7,899.1 L1137.2,901.5 L1132.7,903.9 L1128.2,906.3 L1123.8,908.7 L1119.3,911.1 L1114.8,913.6 L1110.4,916.0 L1105.9,918.5 L1101.5,920.9 L1097.0,923.4 L1092.6,925.9 L1088.2,928.4 L1083.7,930.8 L1079.3,933.3 L1074.9,935.8 L1070.4,938.3 L1066.0,940.8 L1061.6,943.3 L1057.2,945.9 L1052.8,948.4 L1048.4,950.9 L1043.9,953.4 L1039.5,955.9 L1035.1,958.5 L1030.7,961.0 L1026.4,963.5 L1022.0,966.0 L1017.6,968.6 L1013.2,971.1 L1008.8,973.6 L1004.4,976.2 L1000.1,978.7 L995.7,981.2 L991.3,983.8 L987.0,986.3 L982.6,988.8 L978.3,991.4 L973.9,993.9 L969.6,996.4 L965.2,998.9 L960.9,1001.4 L956.5,1004.0 L952.2,1006.5 L947.9,1009.0 L943.5,1011.5 L939.2,1014.0 L934.9,1016.5 L930.6,1019.0 L926.2,1021.5Z" stroke="none"/>
<circle cx="927.4" cy="1023.4" r="2.25" stroke="none"/>
<circle cx="1568.8" cy="716.5" r="2.00" stroke="none"/>
</svg>
</body></html>
